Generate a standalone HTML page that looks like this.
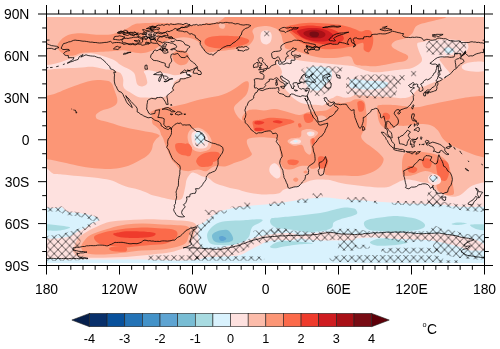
<!DOCTYPE html>
<html><head><meta charset="utf-8"><style>
html,body{margin:0;padding:0;background:#fff;width:500px;height:349px;overflow:hidden;position:relative;font-family:"Liberation Sans",sans-serif;}
</style></head><body>
<svg width="500" height="349" viewBox="0 0 500 349" style="position:absolute;left:0;top:0;will-change:transform">
<defs>
<clipPath id="mc"><rect x="47" y="16.9" width="437.3" height="246"/></clipPath>
<pattern id="hx" patternUnits="userSpaceOnUse" width="7.73" height="8.0" patternTransform="translate(0.06,5.6)"><path d="M0,0 L7.73,8.0 M7.73,0 L0,8.0" stroke="#000" stroke-width="0.6" fill="none"/></pattern>
</defs>
<g clip-path="url(#mc)">
<rect x="40" y="10" width="450" height="260" fill="#fcbcaa"/>
<path d="M57.2,46.0 C57.4,44.3 59.1,42.0 60.4,40.4 C61.7,38.8 63.3,37.5 65.2,36.4 C67.1,35.3 68.9,34.5 71.6,34.0 C74.3,33.5 77.5,33.1 81.2,33.2 C84.9,33.3 90.3,34.2 94.0,34.5 C97.7,34.8 100.4,34.9 103.6,34.8 C106.8,34.7 109.5,35.0 113.2,34.0 C116.9,33.0 122.5,30.6 126.0,29.0 C129.5,27.4 131.3,25.3 134.0,24.4 C136.7,23.4 138.0,23.6 142.0,23.3 C146.0,23.0 152.7,22.8 158.0,22.8 C163.3,22.9 169.7,23.4 174.0,23.6 C178.3,23.8 180.4,23.6 183.6,23.9 C186.8,24.2 190.0,25.1 193.2,25.2 C196.4,25.3 200.7,24.8 202.8,24.4 C204.9,24.0 203.9,23.3 206.0,23.0 C208.1,22.7 212.9,23.4 215.6,22.8 C218.3,22.2 220.1,20.7 222.0,19.6 C223.9,18.5 223.8,17.3 226.8,16.0 C229.8,14.7 203.8,12.7 240.0,12.0 C276.2,11.3 409.7,11.1 444.0,12.0 C478.3,12.9 447.5,15.8 446.0,17.2 C444.5,18.6 438.8,19.3 434.8,20.4 C430.8,21.5 425.2,22.5 422.0,23.6 C418.8,24.7 417.2,25.2 415.6,26.8 C414.0,28.4 414.0,31.3 412.4,33.2 C410.8,35.1 408.9,36.7 406.0,38.0 C403.1,39.3 397.2,39.9 394.8,41.2 C392.4,42.5 391.1,44.4 391.6,46.0 C392.1,47.6 395.3,49.2 398.0,50.8 C400.7,52.4 406.3,54.0 407.6,55.6 C408.9,57.2 407.9,59.2 406.0,60.4 C404.1,61.5 400.0,61.7 396.0,62.5 C392.0,63.3 386.0,64.6 382.0,65.2 C378.0,65.8 376.3,66.3 372.0,66.2 C367.7,66.1 359.7,66.4 356.0,64.8 C352.3,63.2 353.7,57.5 350.0,56.4 C346.3,55.3 339.3,57.9 334.0,58.0 C328.7,58.1 322.8,57.9 318.0,57.2 C313.2,56.5 308.9,55.1 305.2,54.0 C301.5,52.9 298.8,51.7 295.6,50.8 C292.4,49.9 287.9,49.6 286.0,48.5 C284.1,47.4 284.9,45.6 284.4,44.4 C283.9,43.2 283.3,42.8 282.8,41.2 C282.3,39.6 282.0,36.7 281.2,34.8 C280.4,32.9 279.3,31.2 278.0,30.0 C276.7,28.8 275.1,28.3 273.2,27.6 C271.3,26.9 269.2,26.1 266.8,26.0 C264.4,25.9 260.9,26.4 258.8,26.8 C256.7,27.2 255.1,27.6 254.0,28.4 C252.9,29.2 252.4,30.3 252.4,31.6 C252.4,32.9 254.0,34.8 254.0,36.4 C254.0,38.0 253.5,39.6 252.4,41.2 C251.3,42.8 250.0,44.8 247.6,46.0 C245.2,47.2 241.2,47.7 238.0,48.4 C234.8,49.1 232.1,49.5 228.4,50.0 C224.7,50.5 219.3,51.3 215.6,51.6 C211.9,51.9 208.4,53.2 206.0,52.0 C203.6,50.8 202.8,46.3 201.2,44.4 C199.6,42.5 198.3,41.5 196.4,40.4 C194.5,39.3 192.1,38.5 190.0,38.0 C187.9,37.5 185.7,37.2 183.6,37.2 C181.5,37.2 179.3,37.6 177.2,38.0 C175.1,38.4 172.9,38.9 170.8,39.6 C168.7,40.3 166.5,40.8 164.4,42.0 C162.3,43.2 159.9,45.7 158.0,47.0 C156.1,48.3 155.3,49.0 153.2,50.0 C151.1,51.0 148.1,52.3 145.2,52.8 C142.3,53.3 138.8,53.2 135.6,52.8 C132.4,52.4 128.7,50.9 126.0,50.5 C123.3,50.1 121.7,50.4 119.6,50.5 C117.5,50.6 115.5,50.8 113.2,51.0 C110.9,51.2 109.2,51.4 106.0,51.6 C102.8,51.8 98.0,52.0 94.0,52.2 C90.0,52.4 85.2,52.3 82.0,52.8 C78.8,53.3 76.8,54.7 74.8,55.2 C72.8,55.7 71.8,56.0 70.0,55.8 C68.2,55.6 65.8,54.9 64.0,54.0 C62.2,53.1 60.3,51.7 59.2,50.4 C58.1,49.1 57.0,47.7 57.2,46.0Z" fill="#fc9676"/>
<path d="M174.0,52.4 C175.3,51.3 178.3,50.0 180.4,50.0 C182.5,50.0 185.3,51.2 186.8,52.4 C188.3,53.6 189.2,55.3 189.2,57.2 C189.2,59.1 188.3,62.3 186.8,63.6 C185.3,64.9 182.4,65.5 180.4,65.2 C178.4,64.9 176.1,63.5 174.8,62.0 C173.5,60.5 172.5,58.0 172.4,56.4 C172.3,54.8 172.7,53.5 174.0,52.4Z" fill="#fc9676"/>
<path d="M40.0,96.5 C41.0,86.0 43.4,96.5 46.0,96.0 C48.6,95.5 52.4,94.7 55.6,93.6 C58.8,92.5 61.5,91.1 65.2,89.6 C68.9,88.1 74.3,86.1 78.0,84.8 C81.7,83.5 84.4,82.4 87.6,81.6 C90.8,80.8 94.0,80.1 97.2,80.0 C100.4,79.9 104.4,80.3 106.8,80.8 C109.2,81.3 110.3,81.5 111.6,83.2 C112.9,84.9 113.9,88.7 114.8,91.2 C115.7,93.7 116.9,96.3 117.2,98.4 C117.5,100.5 117.6,102.4 116.4,104.0 C115.2,105.6 112.4,106.9 110.0,108.0 C107.6,109.1 104.2,109.4 102.0,110.4 C99.8,111.4 97.5,112.8 96.5,114.0 C95.5,115.2 95.6,116.5 96.0,117.5 C96.4,118.5 96.7,118.9 99.0,119.8 C101.3,120.7 105.5,121.5 110.0,122.8 C114.5,124.1 120.7,126.3 126.0,127.6 C131.3,128.9 137.2,129.9 142.0,130.8 C146.8,131.7 151.9,132.4 154.8,133.2 C157.7,134.0 159.3,134.7 159.6,135.6 C159.9,136.5 157.5,137.5 156.4,138.8 C155.3,140.1 154.0,141.7 153.2,143.6 C152.4,145.5 152.7,147.9 151.6,150.0 C150.5,152.1 149.5,153.9 146.8,156.0 C144.1,158.1 139.1,160.7 135.6,162.4 C132.1,164.1 129.7,165.3 126.0,166.4 C122.3,167.5 117.2,168.4 113.2,168.8 C109.2,169.2 106.5,169.1 102.0,168.8 C97.5,168.5 91.3,168.0 86.0,167.2 C80.7,166.4 75.1,165.1 70.0,164.0 C64.9,162.9 59.6,161.6 55.6,160.8 C51.6,160.0 48.6,159.5 46.0,159.2 C43.4,158.9 41.0,169.4 40.0,159.0 C39.0,148.6 39.0,107.0 40.0,96.5Z" fill="#fc9676"/>
<path d="M149.0,114.0 C148.9,113.9 148.8,112.9 150.4,112.0 C152.0,111.1 155.5,109.6 158.4,108.8 C161.3,108.0 164.8,107.7 168.0,107.2 C171.2,106.7 174.4,106.3 177.6,105.6 C180.8,104.9 183.5,104.2 187.2,103.2 C190.9,102.2 196.3,100.5 200.0,99.6 C203.7,98.7 206.1,98.3 209.6,97.6 C213.1,96.9 217.6,96.1 220.8,95.2 C224.0,94.3 226.1,93.3 228.8,92.0 C231.5,90.7 234.4,88.8 236.8,87.2 C239.2,85.6 241.3,83.3 243.2,82.4 C245.1,81.5 247.1,80.9 248.0,81.6 C248.9,82.3 249.1,84.3 248.8,86.4 C248.5,88.5 247.9,92.0 246.4,94.4 C244.9,96.8 242.0,98.8 240.0,100.8 C238.0,102.8 235.3,104.8 234.4,106.4 C233.5,108.0 234.0,108.9 234.4,110.4 C234.8,111.9 235.9,113.8 236.8,115.2 C237.7,116.6 238.5,117.7 240.0,119.0 C241.5,120.3 243.3,121.5 246.0,123.0 C248.7,124.5 252.7,126.3 256.0,128.0 C259.3,129.7 262.0,131.8 266.0,133.0 C270.0,134.2 277.7,134.1 280.0,135.0 C282.3,135.9 282.3,138.1 280.0,138.5 C277.7,138.9 271.0,137.5 266.0,137.4 C261.0,137.3 253.2,137.4 250.0,138.2 C246.8,139.0 246.8,140.2 246.8,142.2 C246.8,144.2 249.2,148.1 250.0,150.2 C250.8,152.3 252.7,153.4 251.6,155.0 C250.5,156.6 246.5,158.5 243.6,159.8 C240.7,161.1 236.9,161.9 234.0,163.0 C231.1,164.1 229.3,165.6 226.0,166.2 C222.7,166.8 217.3,165.6 214.0,166.4 C210.7,167.2 208.7,170.7 206.0,171.2 C203.3,171.7 200.9,169.6 198.0,169.6 C195.1,169.6 191.3,171.2 188.4,171.2 C185.5,171.2 182.5,170.8 180.4,169.6 C178.3,168.4 177.0,165.6 175.6,164.0 C174.2,162.4 173.2,162.3 171.8,160.0 C170.5,157.7 168.7,152.8 167.5,150.0 C166.3,147.2 165.4,145.0 164.7,143.0 C163.9,141.0 163.6,139.3 163.0,138.0 C162.4,136.7 161.6,135.7 161.2,135.0 C160.8,134.3 161.1,134.6 160.8,133.7 C160.5,132.8 160.0,130.8 159.2,129.6 C158.4,128.4 157.1,127.3 156.0,126.4 C154.9,125.5 153.5,124.9 152.8,124.0 C152.1,123.1 152.3,122.7 152.0,120.8 C151.7,118.9 151.7,113.9 151.2,112.8 C150.7,111.7 149.1,114.1 149.0,114.0Z" fill="#fc9676"/>
<path d="M243.2,115.2 C244.2,113.8 245.9,111.3 248.0,110.4 C250.1,109.5 253.3,109.6 256.0,109.6 C258.7,109.6 260.9,110.6 264.0,110.5 C267.1,110.4 271.1,108.8 274.8,109.0 C278.5,109.2 282.0,110.4 286.0,111.4 C290.0,112.4 295.3,114.8 298.8,115.0 C302.3,115.2 304.3,113.1 306.8,112.5 C309.3,111.9 312.1,111.7 314.0,111.5 C315.9,111.3 316.1,111.5 318.0,111.3 C319.9,111.1 323.5,111.0 325.4,110.6 C327.3,110.2 327.9,109.8 329.2,109.1 C330.4,108.3 331.9,107.0 332.9,106.1 C333.9,105.2 334.1,104.5 335.1,103.9 C336.1,103.3 337.6,102.5 338.8,102.4 C340.1,102.3 341.4,103.2 342.6,103.2 C343.9,103.2 345.1,102.7 346.3,102.4 C347.5,102.2 348.4,102.2 350.0,101.7 C351.6,101.2 353.7,99.3 356.0,99.2 C358.3,99.1 362.3,99.2 364.0,101.0 C365.7,102.8 365.5,106.7 366.0,109.8 C366.5,112.9 366.8,116.5 366.8,119.4 C366.8,122.3 366.7,125.3 366.0,127.4 C365.3,129.5 363.6,130.6 362.8,132.2 C362.0,133.8 360.9,135.4 361.2,137.0 C361.5,138.6 362.8,140.2 364.4,141.8 C366.0,143.4 368.7,145.0 370.8,146.6 C372.9,148.2 375.3,149.8 377.2,151.4 C379.1,153.0 380.9,154.8 382.0,156.2 C383.1,157.6 383.9,158.3 383.6,160.0 C383.3,161.7 382.5,164.3 380.4,166.4 C378.3,168.5 374.5,171.2 370.8,172.8 C367.1,174.4 362.8,175.6 358.0,176.0 C353.2,176.4 346.7,175.6 342.0,175.5 C337.3,175.4 332.8,175.8 330.0,175.5 C327.2,175.2 326.1,175.2 325.0,174.0 C323.9,172.8 324.2,169.4 323.5,168.0 C322.8,166.6 321.9,165.6 321.0,165.5 C320.1,165.4 319.0,166.8 318.0,167.3 C317.0,167.8 316.1,168.2 314.9,168.4 C313.7,168.6 311.8,168.8 310.8,168.4 C309.8,168.1 309.7,166.7 308.7,166.3 C307.7,165.9 306.1,165.8 304.6,165.8 C303.1,165.8 301.2,165.9 299.5,166.3 C297.8,166.7 296.0,167.9 294.3,168.4 C292.6,168.9 290.9,169.4 289.2,169.4 C287.5,169.4 285.4,169.3 284.0,168.4 C282.6,167.5 281.7,165.4 281.0,164.0 C280.3,162.6 279.6,160.7 279.6,160.0 C279.6,159.3 281.2,161.7 281.2,160.0 C281.2,158.3 280.1,153.1 279.6,149.8 C279.1,146.5 279.3,142.5 278.0,140.2 C276.7,137.9 274.3,137.0 271.6,136.2 C268.9,135.4 265.3,136.3 262.0,135.4 C258.7,134.5 254.8,132.9 252.0,131.0 C249.2,129.1 246.7,126.0 245.0,124.0 C243.3,122.0 242.3,120.5 242.0,119.0 C241.7,117.5 242.2,116.6 243.2,115.2Z" fill="#fc9676"/>
<path d="M377.2,108.2 C377.4,105.5 377.1,105.5 380.0,105.0 C382.9,104.5 391.0,104.8 394.8,105.0 C398.6,105.2 399.3,105.6 402.8,106.0 C406.3,106.4 411.2,107.6 416.0,107.3 C420.8,107.0 426.6,105.2 431.8,104.2 C437.1,103.2 442.2,102.0 447.5,101.0 C452.8,100.0 456.9,98.8 463.3,97.9 C469.7,97.0 481.2,95.9 486.0,95.5 C490.8,95.1 491.0,85.0 492.0,95.5 C493.0,106.0 493.0,148.1 492.0,158.5 C491.0,168.9 489.1,158.7 486.0,158.0 C482.9,157.3 477.3,155.8 473.3,154.5 C469.3,153.2 465.8,151.6 462.0,150.0 C458.2,148.4 454.0,146.9 450.8,145.0 C447.6,143.1 444.9,141.0 442.8,138.6 C440.7,136.2 440.1,132.9 438.0,130.6 C435.9,128.3 433.7,126.1 430.0,125.0 C426.3,123.9 419.6,124.1 415.6,124.2 C411.6,124.3 408.7,125.5 406.0,125.8 C403.3,126.1 401.2,125.8 399.6,125.8 C398.0,125.8 398.0,125.3 396.4,125.8 C394.8,126.3 392.1,128.7 390.0,129.0 C387.9,129.3 385.5,128.7 383.6,127.4 C381.7,126.1 379.9,124.2 378.8,121.0 C377.7,117.8 377.0,110.9 377.2,108.2Z" fill="#fc9676"/>
<path d="M406.0,153.0 C408.1,152.1 411.6,151.4 415.6,151.4 C419.6,151.4 425.7,152.1 430.0,153.0 C434.3,153.9 438.3,154.9 441.2,156.6 C444.1,158.3 446.0,160.3 447.6,163.0 C449.2,165.7 450.0,169.4 450.8,172.6 C451.6,175.8 451.9,179.0 452.4,182.2 C452.9,185.4 454.0,189.7 454.0,191.8 C454.0,193.9 454.0,194.6 452.4,195.0 C450.8,195.4 446.8,195.0 444.4,194.2 C442.0,193.4 439.3,191.9 438.0,190.2 C436.7,188.5 436.4,185.4 436.4,183.8 C436.4,182.2 438.3,182.2 438.0,180.6 C437.7,179.0 436.9,175.8 434.8,174.2 C432.7,172.6 428.4,171.0 425.2,171.0 C422.0,171.0 418.3,173.4 415.6,174.2 C412.9,175.0 411.3,175.7 409.2,175.8 C407.1,175.9 404.2,176.8 403.0,175.0 C401.8,173.2 402.0,168.0 402.0,165.0 C402.0,162.0 402.3,159.0 403.0,157.0 C403.7,155.0 403.9,153.9 406.0,153.0Z" fill="#fc9676"/>
<path d="M293.3,179.0 C293.7,178.4 295.1,177.5 296.0,177.6 C296.9,177.7 298.3,178.8 298.4,179.5 C298.5,180.2 297.3,181.6 296.5,181.8 C295.7,182.1 294.3,181.5 293.8,181.0 C293.3,180.5 292.9,179.6 293.3,179.0Z" fill="#fc9676"/>
<path d="M303.6,171.5 C303.9,171.1 305.3,170.3 306.0,170.4 C306.7,170.5 307.7,171.5 307.7,172.0 C307.7,172.5 306.6,173.3 306.0,173.5 C305.4,173.7 304.4,173.3 304.0,173.0 C303.6,172.7 303.3,171.9 303.6,171.5Z" fill="#fc9676"/>
<path d="M187.6,135.8 C187.9,133.4 188.9,130.7 190.8,129.4 C192.7,128.1 196.1,127.3 198.8,127.8 C201.5,128.3 204.7,130.5 206.8,132.6 C208.9,134.7 211.1,137.9 211.6,140.6 C212.1,143.3 211.6,146.7 210.0,148.6 C208.4,150.5 204.7,151.5 202.0,151.8 C199.3,152.1 196.1,151.5 194.0,150.2 C191.9,148.9 190.3,146.2 189.2,143.8 C188.1,141.4 187.3,138.2 187.6,135.8Z" fill="#fcbcaa"/>
<path d="M302.0,130.6 C303.6,129.3 307.3,128.7 310.0,129.0 C312.7,129.3 317.2,130.9 318.0,132.2 C318.8,133.5 316.1,135.7 314.8,137.0 C313.5,138.3 310.5,138.1 310.0,140.2 C309.5,142.3 311.6,147.4 311.6,149.8 C311.6,152.2 311.1,154.3 310.0,154.6 C308.9,154.9 306.5,153.0 305.2,151.4 C303.9,149.8 303.9,145.9 302.0,145.0 C300.1,144.1 296.4,146.3 294.0,145.8 C291.6,145.3 288.1,143.0 287.6,141.8 C287.1,140.6 288.7,139.4 290.8,138.6 C292.9,137.8 298.5,138.3 300.4,137.0 C302.3,135.7 300.4,131.9 302.0,130.6Z" fill="#fcbcaa"/>
<path d="M318.0,116.2 C318.5,115.3 320.7,115.3 322.0,115.5 C323.3,115.7 325.5,116.6 326.0,117.5 C326.5,118.4 326.2,120.4 325.0,121.0 C323.8,121.6 320.2,121.8 319.0,121.0 C317.8,120.2 317.5,117.1 318.0,116.2Z" fill="#fcbcaa"/>
<path d="M145.0,33.0 C146.1,32.1 149.0,31.4 151.0,31.5 C153.0,31.6 156.2,32.3 157.0,33.5 C157.8,34.7 157.3,37.5 156.0,38.5 C154.7,39.5 150.9,39.9 149.0,39.6 C147.1,39.4 145.2,38.1 144.5,37.0 C143.8,35.9 143.9,33.9 145.0,33.0Z" fill="#fcbcaa"/>
<path d="M218.8,24.0 C219.2,23.2 221.4,23.2 222.5,23.4 C223.6,23.6 224.9,24.2 225.2,25.0 C225.4,25.8 224.9,27.9 224.0,28.4 C223.1,28.9 220.9,28.7 220.0,28.0 C219.1,27.3 218.4,24.8 218.8,24.0Z" fill="#fcbcaa"/>
<path d="M192.4,132.6 C193.6,131.1 196.7,130.1 198.8,130.2 C200.9,130.3 203.6,131.7 205.2,133.4 C206.8,135.1 208.1,138.3 208.4,140.6 C208.7,142.9 208.1,145.7 206.8,147.0 C205.5,148.3 202.5,148.7 200.4,148.6 C198.3,148.5 195.5,147.8 194.0,146.2 C192.5,144.6 191.9,141.3 191.6,139.0 C191.3,136.7 191.2,134.1 192.4,132.6Z" fill="#fee1df"/>
<path d="M290.5,141.5 C291.2,140.9 293.3,139.6 295.0,139.4 C296.7,139.2 299.7,139.6 300.5,140.2 C301.3,140.8 301.1,142.6 300.0,143.2 C298.9,143.8 295.6,144.0 294.0,144.0 C292.4,144.0 291.1,143.4 290.5,143.0 C289.9,142.6 289.8,142.1 290.5,141.5Z" fill="#fee1df"/>
<path d="M306.8,133.0 C307.0,132.3 308.8,131.7 310.0,131.6 C311.2,131.5 313.7,131.8 314.3,132.5 C314.9,133.2 314.4,134.9 313.5,135.5 C312.6,136.1 310.1,136.4 309.0,136.0 C307.9,135.6 306.6,133.7 306.8,133.0Z" fill="#fee1df"/>
<path d="M294.0,140.8 C294.4,140.5 295.8,140.3 296.5,140.4 C297.2,140.5 298.1,141.1 298.0,141.4 C297.9,141.7 296.7,142.3 296.0,142.4 C295.3,142.5 294.3,142.3 294.0,142.0 C293.7,141.7 293.6,141.1 294.0,140.8Z" fill="#d9f2fd"/>
<path d="M308.8,133.2 C309.1,132.9 310.0,132.5 310.5,132.6 C311.0,132.7 311.7,133.3 311.6,133.6 C311.6,133.9 310.6,134.5 310.2,134.6 C309.8,134.7 309.1,134.4 308.9,134.2 C308.7,134.0 308.5,133.5 308.8,133.2Z" fill="#d9f2fd"/>
<path d="M194.8,134.2 C195.7,133.0 198.8,131.5 200.4,131.8 C202.0,132.1 203.9,134.1 204.4,135.8 C204.9,137.5 204.7,140.9 203.6,142.2 C202.5,143.5 199.5,144.3 198.0,143.8 C196.5,143.3 195.3,140.6 194.8,139.0 C194.3,137.4 193.9,135.4 194.8,134.2Z" fill="#d9f2fd"/>
<path d="M205.0,40.0 C205.8,38.8 207.5,37.7 210.0,37.0 C212.5,36.3 216.3,36.0 220.0,35.8 C223.7,35.6 228.5,35.8 232.0,36.0 C235.5,36.2 238.3,36.4 241.0,37.0 C243.7,37.6 247.2,38.6 248.4,39.6 C249.6,40.6 249.4,42.0 248.0,43.0 C246.6,44.0 243.0,45.0 240.0,45.8 C237.0,46.6 233.3,47.6 230.0,48.0 C226.7,48.4 223.3,48.6 220.0,48.4 C216.7,48.2 212.5,47.7 210.0,47.0 C207.5,46.3 205.8,45.2 205.0,44.0 C204.2,42.8 204.2,41.2 205.0,40.0Z" fill="#fb6a4a"/>
<path d="M286.0,26.8 C287.3,25.9 291.6,25.1 295.6,24.4 C299.6,23.7 304.9,22.9 310.0,22.8 C315.1,22.7 320.7,23.2 326.0,23.6 C331.3,24.0 337.5,24.4 342.0,25.2 C346.5,26.0 350.0,27.3 353.2,28.4 C356.4,29.4 359.1,31.2 361.2,31.5 C363.3,31.8 364.4,30.1 366.0,30.0 C367.6,29.9 369.6,29.7 370.8,31.0 C372.0,32.3 372.9,35.5 373.2,38.0 C373.5,40.5 373.1,43.7 372.4,46.0 C371.7,48.3 370.6,51.3 369.2,52.0 C367.8,52.7 365.1,51.5 364.0,50.0 C362.9,48.5 364.6,43.5 362.8,42.8 C361.0,42.1 356.9,45.1 353.2,46.0 C349.5,46.9 344.9,47.9 340.4,48.4 C335.9,48.9 330.3,49.3 326.0,49.2 C321.7,49.1 318.3,48.4 314.8,47.6 C311.3,46.8 307.9,45.5 305.2,44.4 C302.5,43.3 300.9,42.8 298.8,41.2 C296.7,39.6 294.3,36.7 292.4,34.8 C290.5,32.9 288.7,31.3 287.6,30.0 C286.5,28.7 284.7,27.7 286.0,26.8Z" fill="#fb6a4a"/>
<path d="M175.6,144.0 C176.7,142.7 180.3,142.7 183.0,143.2 C185.7,143.7 190.4,145.1 191.6,147.0 C192.8,148.9 191.6,153.1 190.0,154.4 C188.4,155.7 184.2,155.6 182.0,155.0 C179.8,154.4 177.6,152.8 176.5,151.0 C175.4,149.2 174.5,145.3 175.6,144.0Z" fill="#fb6a4a"/>
<path d="M186.0,143.8 C186.8,142.3 190.0,144.1 190.8,146.0 C191.6,147.9 191.6,153.5 190.8,155.0 C190.0,156.5 186.8,156.9 186.0,155.0 C185.2,153.1 185.2,145.3 186.0,143.8Z" fill="#fb6a4a"/>
<path d="M197.2,158.2 C198.3,156.6 200.9,154.5 203.6,153.4 C206.3,152.3 210.5,151.8 213.2,151.8 C215.9,151.8 218.8,152.1 219.6,153.4 C220.4,154.7 219.6,158.2 218.0,159.8 C216.4,161.4 212.7,162.2 210.0,163.0 C207.3,163.8 204.1,164.6 202.0,164.6 C199.9,164.6 198.0,164.1 197.2,163.0 C196.4,161.9 196.1,159.8 197.2,158.2Z" fill="#fb6a4a"/>
<path d="M196.4,160.5 C197.1,159.3 201.3,159.4 204.0,159.5 C206.7,159.6 211.2,159.9 212.4,161.0 C213.6,162.1 213.1,165.1 211.0,166.0 C208.9,166.9 202.4,167.3 200.0,166.4 C197.6,165.5 195.7,161.7 196.4,160.5Z" fill="#fb6a4a"/>
<path d="M253.2,121.0 C254.7,119.9 259.2,119.9 262.0,119.4 C264.8,118.9 266.5,117.9 270.0,117.8 C273.5,117.7 279.1,118.2 282.8,118.6 C286.5,119.0 290.5,119.5 292.4,120.2 C294.3,120.9 295.1,121.8 294.0,122.6 C292.9,123.4 288.7,124.2 286.0,125.0 C283.3,125.8 280.7,126.5 278.0,127.4 C275.3,128.3 272.7,129.9 270.0,130.6 C267.3,131.3 264.5,131.3 262.0,131.4 C259.5,131.5 256.3,131.9 254.8,131.0 C253.3,130.1 253.5,127.7 253.2,126.0 C252.9,124.3 251.7,122.1 253.2,121.0Z" fill="#fb6a4a"/>
<path d="M303.6,115.5 C303.9,114.0 306.4,113.4 308.0,113.5 C309.6,113.6 312.4,114.7 313.2,116.0 C313.9,117.3 313.7,120.4 312.5,121.5 C311.3,122.6 307.5,123.6 306.0,122.6 C304.5,121.6 303.3,117.0 303.6,115.5Z" fill="#fb6a4a"/>
<path d="M298.0,124.0 C298.2,123.3 299.9,123.0 300.5,123.4 C301.1,123.8 301.8,125.8 301.5,126.5 C301.2,127.2 299.6,127.8 299.0,127.4 C298.4,127.0 297.8,124.7 298.0,124.0Z" fill="#fb6a4a"/>
<path d="M357.6,102.0 C358.2,101.2 359.9,100.7 361.0,101.0 C362.1,101.3 364.0,102.4 364.4,104.0 C364.8,105.6 364.4,109.3 363.5,110.5 C362.6,111.7 360.0,112.2 359.0,111.4 C358.0,110.7 357.8,107.6 357.6,106.0 C357.4,104.4 357.0,102.8 357.6,102.0Z" fill="#fb6a4a"/>
<path d="M382.8,114.0 C383.2,113.0 385.3,112.5 386.5,112.8 C387.7,113.0 389.6,114.4 390.0,115.5 C390.4,116.6 390.0,118.8 389.0,119.4 C388.0,120.0 385.0,119.9 384.0,119.0 C383.0,118.1 382.4,115.0 382.8,114.0Z" fill="#fb6a4a"/>
<path d="M318.0,158.0 C318.5,156.1 321.3,156.2 323.0,156.5 C324.7,156.8 327.5,158.2 328.0,160.0 C328.5,161.8 327.3,165.7 326.0,167.0 C324.7,168.3 321.3,169.5 320.0,168.0 C318.7,166.5 317.5,159.9 318.0,158.0Z" fill="#fb6a4a"/>
<path d="M287.6,160.5 C288.3,159.7 291.1,159.4 293.0,159.5 C294.9,159.6 298.3,160.1 298.8,161.0 C299.3,161.9 297.6,164.2 296.0,164.8 C294.4,165.4 290.4,165.2 289.0,164.5 C287.6,163.8 286.9,161.3 287.6,160.5Z" fill="#fb6a4a"/>
<path d="M311.6,139.0 C312.0,138.3 313.5,138.1 314.0,138.6 C314.5,139.1 315.0,140.9 314.8,142.0 C314.6,143.1 313.5,144.8 313.0,145.0 C312.5,145.2 311.8,144.0 311.6,143.0 C311.4,142.0 311.2,139.7 311.6,139.0Z" fill="#fb6a4a"/>
<path d="M407.6,167.0 C408.1,166.0 410.4,165.9 412.0,166.2 C413.6,166.4 416.7,167.4 417.2,168.5 C417.7,169.6 416.4,172.0 415.0,172.6 C413.6,173.2 410.2,172.9 409.0,172.0 C407.8,171.1 407.1,168.0 407.6,167.0Z" fill="#fb6a4a"/>
<path d="M422.0,160.0 C422.5,158.5 425.4,158.0 427.0,158.2 C428.6,158.4 431.1,159.4 431.6,161.0 C432.1,162.6 431.3,166.8 430.0,167.8 C428.7,168.8 425.3,168.3 424.0,167.0 C422.7,165.7 421.5,161.5 422.0,160.0Z" fill="#fb6a4a"/>
<path d="M436.4,161.0 C437.2,159.0 440.1,159.5 442.0,159.8 C443.9,160.1 446.8,161.0 448.0,163.0 C449.2,165.0 449.5,169.1 449.2,172.0 C448.9,174.9 447.5,179.4 446.0,180.6 C444.5,181.8 441.5,180.4 440.0,179.0 C438.5,177.6 437.6,175.0 437.0,172.0 C436.4,169.0 435.6,163.0 436.4,161.0Z" fill="#fb6a4a"/>
<path d="M290.8,29.2 C291.1,27.9 295.6,27.4 298.8,26.8 C302.0,26.2 306.0,25.5 310.0,25.5 C314.0,25.5 318.8,26.1 322.8,26.8 C326.8,27.6 330.8,28.7 334.0,30.0 C337.2,31.3 340.4,33.2 342.0,34.8 C343.6,36.4 344.4,38.1 343.6,39.6 C342.8,41.1 340.1,42.8 337.2,43.6 C334.3,44.4 329.7,44.5 326.0,44.4 C322.3,44.3 318.3,43.6 314.8,42.8 C311.3,42.0 308.1,40.9 305.2,39.6 C302.3,38.3 299.6,36.5 297.2,34.8 C294.8,33.1 290.5,30.5 290.8,29.2Z" fill="#ef3b2c"/>
<path d="M273.2,121.0 C273.9,120.6 276.4,120.1 278.0,120.2 C279.6,120.3 282.5,121.3 282.8,121.8 C283.1,122.3 281.1,123.3 279.6,123.4 C278.1,123.5 275.1,123.0 274.0,122.6 C272.9,122.2 272.5,121.4 273.2,121.0Z" fill="#ef3b2c"/>
<path d="M255.0,121.5 C255.8,121.0 258.4,120.8 260.0,121.0 C261.6,121.2 264.4,121.9 264.4,122.5 C264.4,123.1 261.6,124.3 260.0,124.6 C258.4,124.8 255.8,124.5 255.0,124.0 C254.2,123.5 254.2,122.0 255.0,121.5Z" fill="#ef3b2c"/>
<path d="M255.0,128.2 C255.8,127.7 258.4,127.6 260.0,127.8 C261.6,128.0 264.4,129.0 264.4,129.5 C264.4,130.0 261.6,130.8 260.0,131.0 C258.4,131.2 255.8,131.0 255.0,130.5 C254.2,130.0 254.2,128.6 255.0,128.2Z" fill="#ef3b2c"/>
<path d="M297.2,30.8 C298.3,29.9 302.0,28.8 305.2,28.4 C308.4,27.9 312.9,27.8 316.4,28.1 C319.9,28.4 323.3,29.0 326.0,30.0 C328.7,31.0 331.3,32.7 332.4,34.0 C333.5,35.3 333.5,36.8 332.4,38.0 C331.3,39.2 328.9,40.7 326.0,41.2 C323.1,41.7 318.5,41.7 314.8,41.2 C311.1,40.7 306.3,39.2 303.6,38.0 C300.9,36.8 299.9,35.2 298.8,34.0 C297.7,32.8 296.1,31.7 297.2,30.8Z" fill="#cf1c20"/>
<path d="M303.6,32.4 C304.4,31.5 307.6,30.4 310.0,30.0 C312.4,29.6 315.6,29.6 318.0,30.0 C320.4,30.4 323.2,31.5 324.4,32.4 C325.6,33.3 325.7,34.7 325.2,35.6 C324.7,36.5 323.5,37.6 321.2,38.0 C318.9,38.4 314.3,38.4 311.6,38.0 C308.9,37.6 306.5,36.5 305.2,35.6 C303.9,34.7 302.8,33.3 303.6,32.4Z" fill="#a81016"/>
<path d="M310.0,32.4 C310.8,31.7 313.3,31.5 314.8,31.6 C316.3,31.7 318.3,32.4 318.8,33.2 C319.3,34.0 318.9,35.7 318.0,36.4 C317.1,37.1 314.5,37.3 313.2,37.2 C311.9,37.1 310.5,36.4 310.0,35.6 C309.5,34.8 309.2,33.1 310.0,32.4Z" fill="#780c14"/>
<path d="M40.0,65.5 C41.0,64.7 43.4,65.5 46.0,65.2 C48.6,64.9 52.4,64.4 55.6,63.6 C58.8,62.8 62.0,61.5 65.2,60.4 C68.4,59.3 71.9,58.3 74.8,57.2 C77.7,56.1 80.1,54.7 82.8,54.0 C85.5,53.3 88.1,53.1 90.8,53.2 C93.5,53.3 96.1,54.1 98.8,54.8 C101.5,55.5 104.1,56.3 106.8,57.2 C109.5,58.1 112.6,59.2 114.8,60.4 C117.0,61.6 118.3,63.4 120.0,64.5 C121.7,65.6 123.2,66.4 124.8,67.2 C126.4,68.0 128.0,68.5 129.6,69.6 C131.2,70.7 133.3,71.9 134.4,73.6 C135.5,75.3 135.5,78.1 136.0,80.0 C136.5,81.9 136.5,83.7 137.6,84.8 C138.7,85.9 140.8,86.7 142.4,86.4 C144.0,86.1 146.7,85.1 147.2,83.2 C147.7,81.3 146.1,77.2 145.6,75.2 C145.1,73.2 143.2,72.0 144.0,71.2 C144.8,70.4 148.0,70.3 150.4,70.4 C152.8,70.5 155.5,71.5 158.4,72.0 C161.3,72.5 165.3,73.1 168.0,73.6 C170.7,74.1 172.3,75.1 174.4,75.2 C176.5,75.3 178.7,74.9 180.8,74.4 C182.9,73.9 185.3,72.1 187.2,72.0 C189.1,71.9 191.7,72.8 192.0,73.6 C192.3,74.4 190.7,76.0 188.8,76.8 C186.9,77.6 183.2,77.6 180.8,78.4 C178.4,79.2 175.7,80.0 174.4,81.6 C173.1,83.2 173.6,86.0 172.8,88.0 C172.0,90.0 170.9,92.1 169.6,93.6 C168.3,95.1 167.2,96.1 164.8,96.8 C162.4,97.5 158.7,97.5 155.2,97.6 C151.7,97.7 146.9,97.7 144.0,97.6 C141.1,97.5 139.7,97.6 137.6,96.8 C135.5,96.0 133.2,94.2 131.2,93.0 C129.2,91.8 126.8,90.7 125.5,89.5 C124.2,88.3 123.6,87.7 123.2,86.0 C122.8,84.3 123.6,81.3 123.2,79.2 C122.8,77.1 121.9,74.8 120.9,73.5 C120.0,72.2 118.8,72.3 117.5,71.7 C116.2,71.1 114.8,70.4 112.9,70.0 C111.0,69.6 108.6,69.8 106.0,69.4 C103.4,69.0 99.7,67.9 97.2,67.5 C94.7,67.1 94.0,66.8 90.8,66.8 C87.6,66.8 82.8,67.5 78.0,67.8 C73.2,68.1 67.3,68.2 62.0,68.5 C56.7,68.8 49.7,69.5 46.0,69.8 C42.3,70.0 41.0,70.7 40.0,70.0 C39.0,69.3 39.0,66.3 40.0,65.5Z" fill="#fee1df"/>
<path d="M262.0,31.6 C263.3,30.5 266.8,30.3 268.4,30.8 C270.0,31.3 271.2,33.1 271.6,34.8 C272.0,36.5 271.6,39.6 270.8,41.2 C270.0,42.8 268.3,44.1 266.8,44.4 C265.3,44.7 263.1,44.0 262.0,42.8 C260.9,41.6 260.4,39.1 260.4,37.2 C260.4,35.3 260.7,32.7 262.0,31.6Z" fill="#fee1df"/>
<path d="M276.5,63.0 C277.0,61.9 280.4,61.2 283.0,60.5 C285.6,59.8 289.6,58.8 292.4,58.8 C295.2,58.8 296.1,59.9 300.0,60.5 C303.9,61.1 310.7,61.8 316.0,62.4 C321.3,63.0 326.7,63.5 332.0,64.0 C337.3,64.5 344.0,65.1 348.0,65.6 C352.0,66.1 352.0,65.9 356.0,67.0 C360.0,68.1 366.7,71.3 372.0,72.0 C377.3,72.7 383.2,71.6 388.0,71.2 C392.8,70.8 396.8,70.1 400.8,69.6 C404.8,69.1 408.8,69.1 412.0,68.0 C415.2,66.9 418.3,64.7 420.0,63.2 C421.7,61.7 422.2,60.9 422.0,58.8 C421.8,56.7 419.6,53.3 418.8,50.8 C418.0,48.3 416.7,45.1 417.2,43.6 C417.7,42.1 419.9,42.5 422.0,42.0 C424.1,41.5 426.0,40.8 430.0,40.4 C434.0,40.0 440.9,39.6 446.0,39.6 C451.1,39.6 456.9,39.9 460.4,40.4 C463.9,40.9 465.5,41.6 466.8,42.8 C468.1,44.0 468.7,46.0 468.4,47.6 C468.1,49.2 467.1,51.3 465.2,52.4 C463.3,53.5 460.4,53.3 457.2,54.0 C454.0,54.7 448.9,55.6 446.0,56.4 C443.1,57.2 440.4,57.9 439.6,58.8 C438.8,59.7 439.9,60.4 441.0,62.0 C442.1,63.6 444.5,66.5 446.0,68.6 C447.5,70.7 450.5,72.7 450.0,74.4 C449.5,76.1 445.3,77.5 443.0,78.7 C440.7,79.9 438.4,80.5 436.0,81.5 C433.6,82.5 430.7,83.6 428.7,84.4 C426.7,85.2 425.4,86.0 424.0,86.5 C422.6,87.0 421.2,86.8 420.0,87.5 C418.8,88.2 417.6,89.5 416.5,90.5 C415.4,91.5 414.7,92.4 413.5,93.5 C412.3,94.6 411.3,96.2 409.2,97.0 C407.1,97.8 403.5,98.2 400.6,98.2 C397.7,98.2 394.6,97.4 392.0,97.2 C389.4,97.0 388.7,97.0 384.8,96.8 C380.9,96.6 373.6,96.3 368.8,96.0 C364.0,95.7 359.1,94.8 356.0,95.0 C352.9,95.2 352.0,96.8 350.0,97.2 C348.0,97.6 345.6,97.7 344.0,97.6 C342.4,97.5 341.5,96.8 340.3,96.5 C339.1,96.2 337.8,95.5 336.6,95.7 C335.4,96.0 334.1,97.4 332.9,98.0 C331.7,98.6 330.3,98.5 329.2,99.4 C328.1,100.3 327.3,102.2 326.2,103.2 C325.1,104.2 324.2,105.1 322.5,105.4 C320.8,105.7 318.4,105.0 316.0,104.8 C313.6,104.6 311.1,104.9 308.4,104.5 C305.7,104.1 302.7,103.8 300.0,102.5 C297.3,101.2 293.6,98.3 292.0,97.0 C290.4,95.7 291.6,95.8 290.4,94.4 C289.2,93.0 286.1,90.7 285.0,88.5 C283.9,86.3 284.2,83.6 283.5,81.5 C282.8,79.4 281.2,77.6 281.0,76.0 C280.8,74.4 282.2,73.5 282.0,72.0 C281.8,70.5 280.9,68.5 280.0,67.0 C279.1,65.5 276.0,64.1 276.5,63.0Z" fill="#fee1df"/>
<path d="M461.7,66.3 C462.0,65.1 463.6,64.0 466.5,63.2 C469.4,62.4 475.8,61.7 479.0,61.6 C482.2,61.5 483.8,62.3 486.0,62.4 C488.2,62.5 491.0,61.0 492.0,62.4 C493.0,63.8 493.0,69.6 492.0,71.0 C491.0,72.4 488.7,70.9 486.0,71.0 C483.3,71.1 479.5,71.9 476.0,71.8 C472.5,71.7 467.3,71.2 464.9,70.3 C462.5,69.4 461.4,67.5 461.7,66.3Z" fill="#fee1df"/>
<path d="M270.0,166.4 C270.8,164.8 273.2,162.9 274.8,163.2 C276.4,163.5 278.7,165.9 279.6,168.0 C280.5,170.1 280.9,174.3 280.4,176.0 C279.9,177.7 278.1,178.9 276.4,178.4 C274.7,177.9 271.1,174.8 270.0,172.8 C268.9,170.8 269.2,168.0 270.0,166.4Z" fill="#fee1df"/>
<path d="M428.5,176.5 C429.3,175.2 432.1,173.9 434.0,174.0 C435.9,174.1 438.9,175.6 440.0,177.0 C441.1,178.4 441.4,181.2 440.5,182.5 C439.6,183.8 436.7,185.1 434.8,185.0 C432.9,184.9 430.1,183.4 429.0,182.0 C427.9,180.6 427.7,177.8 428.5,176.5Z" fill="#fee1df"/>
<path d="M430.8,177.5 C431.1,176.6 432.9,175.7 434.0,175.8 C435.1,175.9 437.2,177.1 437.5,178.0 C437.8,178.9 436.9,181.0 436.0,181.5 C435.1,182.0 432.9,181.9 432.0,181.2 C431.1,180.5 430.5,178.4 430.8,177.5Z" fill="#d9f2fd"/>
<path d="M40.0,174.4 C42.3,158.4 50.3,174.0 54.0,174.0 C57.7,174.0 58.0,174.1 62.0,174.4 C66.0,174.7 72.7,175.5 78.0,176.0 C83.3,176.5 88.7,176.9 94.0,177.6 C99.3,178.3 106.0,179.1 110.0,180.0 C114.0,180.9 115.3,182.1 118.0,183.2 C120.7,184.3 123.1,185.5 126.0,186.4 C128.9,187.3 132.4,187.9 135.6,188.8 C138.8,189.7 142.5,191.0 145.2,192.0 C147.9,193.0 149.1,194.2 151.6,195.0 C154.1,195.8 157.6,196.4 160.0,197.0 C162.4,197.6 163.4,197.9 166.0,198.4 C168.6,198.9 172.9,200.0 175.6,200.0 C178.3,200.0 180.4,200.5 182.0,198.4 C183.6,196.3 184.4,190.4 185.2,187.2 C186.0,184.0 185.7,181.6 186.8,179.2 C187.9,176.8 190.0,173.7 191.6,172.8 C193.2,171.9 194.8,173.1 196.4,173.6 C198.0,174.1 199.3,175.3 201.2,176.0 C203.1,176.7 205.5,176.5 207.6,177.6 C209.7,178.7 211.6,181.1 214.0,182.4 C216.4,183.7 219.3,184.7 222.0,185.6 C224.7,186.5 227.3,187.3 230.0,188.0 C232.7,188.7 235.3,188.9 238.0,189.6 C240.7,190.3 242.0,191.2 246.0,192.0 C250.0,192.8 256.7,194.1 262.0,194.4 C267.3,194.7 274.3,194.4 278.0,193.6 C281.7,192.8 281.3,190.6 284.0,189.5 C286.7,188.4 290.9,188.1 294.3,187.0 C297.7,185.9 302.0,183.9 304.6,182.8 C307.2,181.8 308.1,181.2 309.8,180.7 C311.5,180.2 312.3,179.9 314.9,179.7 C317.5,179.5 322.7,179.6 325.2,179.7 C327.7,179.8 327.2,179.4 330.0,180.0 C332.8,180.6 337.3,182.3 342.0,183.2 C346.7,184.1 352.7,184.9 358.0,185.6 C363.3,186.3 369.2,186.9 374.0,187.2 C378.8,187.5 383.3,187.7 386.8,187.2 C390.3,186.7 391.6,185.3 394.8,184.0 C398.0,182.7 401.5,179.8 406.0,179.5 C410.5,179.2 418.0,181.5 422.0,182.2 C426.0,182.9 427.3,182.2 430.0,183.8 C432.7,185.4 434.5,189.7 438.0,191.8 C441.5,193.9 447.1,196.1 450.8,196.6 C454.5,197.1 457.2,196.6 460.4,195.0 C463.6,193.4 467.1,188.9 470.0,187.0 C472.9,185.1 475.3,184.6 478.0,183.8 C480.7,183.0 483.7,182.5 486.0,182.2 C488.3,181.9 491.0,167.4 492.0,182.0 C493.0,196.6 567.3,255.3 492.0,270.0 C416.7,284.7 115.3,285.9 40.0,270.0 C-35.3,254.1 37.7,190.4 40.0,174.4Z" fill="#fee1df"/>
<path d="M308.0,68.0 C310.1,66.4 314.1,66.4 317.6,66.4 C321.1,66.4 326.4,66.9 328.8,68.0 C331.2,69.1 331.7,70.9 332.0,72.8 C332.3,74.7 331.7,77.1 330.4,79.2 C329.1,81.3 325.9,83.7 324.0,85.6 C322.1,87.5 321.3,89.7 319.2,90.4 C317.1,91.1 313.3,90.7 311.2,89.6 C309.1,88.5 307.5,86.3 306.4,84.0 C305.3,81.7 304.5,78.7 304.8,76.0 C305.1,73.3 305.9,69.6 308.0,68.0Z" fill="#d9f2fd"/>
<path d="M350.0,80.0 C351.0,78.7 352.9,79.1 356.0,79.2 C359.1,79.3 364.0,80.4 368.8,80.8 C373.6,81.2 381.6,81.1 384.8,81.6 C388.0,82.1 388.3,82.9 388.0,84.0 C387.7,85.1 386.4,87.1 383.2,88.0 C380.0,88.9 373.3,89.5 368.8,89.6 C364.3,89.7 359.1,88.9 356.0,88.5 C352.9,88.1 351.0,88.4 350.0,87.0 C349.0,85.6 349.0,81.3 350.0,80.0Z" fill="#d9f2fd"/>
<path d="M444.4,48.5 C444.9,47.6 447.4,47.4 449.0,47.6 C450.6,47.8 453.5,48.6 454.0,49.5 C454.5,50.4 453.3,52.4 452.0,53.0 C450.7,53.6 447.3,54.0 446.0,53.2 C444.7,52.5 443.9,49.4 444.4,48.5Z" fill="#d9f2fd"/>
<path d="M40.0,207.4 C41.0,202.2 43.7,207.3 46.0,207.4 C48.3,207.5 51.3,208.2 54.0,208.2 C56.7,208.2 59.9,206.9 62.0,207.4 C64.1,207.9 64.1,210.5 66.8,211.4 C69.5,212.3 74.5,212.5 78.0,213.0 C81.5,213.5 84.4,213.8 87.6,214.6 C90.8,215.4 95.3,216.9 97.2,217.8 C99.1,218.7 99.3,219.4 98.8,220.2 C98.3,221.0 96.1,221.4 94.0,222.6 C91.9,223.8 88.7,225.9 86.0,227.4 C83.3,228.9 80.7,229.9 78.0,231.4 C75.3,232.9 72.7,235.1 70.0,236.2 C67.3,237.3 64.7,237.4 62.0,237.8 C59.3,238.2 56.7,238.5 54.0,238.6 C51.3,238.7 48.3,238.6 46.0,238.6 C43.7,238.6 41.0,243.8 40.0,238.6 C39.0,233.4 39.0,212.6 40.0,207.4Z" fill="#d9f2fd"/>
<path d="M196.0,227.4 C197.1,225.5 201.3,224.5 204.0,222.6 C206.7,220.7 209.3,218.1 212.0,216.2 C214.7,214.3 216.5,212.7 220.0,211.4 C223.5,210.1 228.0,209.1 232.8,208.2 C237.6,207.3 243.9,206.6 248.8,206.0 C253.7,205.4 257.1,205.3 262.0,204.8 C266.9,204.3 272.7,203.9 278.0,203.2 C283.3,202.5 288.7,201.6 294.0,200.8 C299.3,200.0 304.7,198.9 310.0,198.4 C315.3,197.9 320.7,197.5 326.0,197.6 C331.3,197.7 336.7,198.8 342.0,199.2 C347.3,199.6 352.7,199.6 358.0,200.0 C363.3,200.4 368.7,201.2 374.0,201.6 C379.3,202.0 384.7,202.1 390.0,202.4 C395.3,202.7 400.7,203.3 406.0,203.5 C411.3,203.7 416.7,203.6 422.0,203.8 C427.3,204.0 432.7,204.2 438.0,204.6 C443.3,205.0 448.7,205.8 454.0,206.2 C459.3,206.6 464.7,207.0 470.0,207.0 C475.3,207.0 482.3,206.5 486.0,206.4 C489.7,206.3 491.0,195.8 492.0,206.4 C493.0,217.0 567.3,259.4 492.0,270.0 C416.7,280.6 115.3,271.8 40.0,270.0 C-35.3,268.2 26.7,261.1 40.0,259.3 C53.3,257.5 93.5,259.3 120.0,259.3 C146.5,259.3 185.8,261.9 199.0,259.3 C212.2,256.7 199.4,247.7 199.2,243.4 C199.0,239.2 198.1,236.5 197.6,233.8 C197.1,231.1 194.9,229.3 196.0,227.4Z" fill="#d9f2fd"/>
<path d="M40.0,224.2 C41.0,223.1 43.4,224.1 46.0,224.2 C48.6,224.3 51.6,224.5 55.6,225.0 C59.6,225.5 69.5,226.5 70.0,227.4 C70.5,228.3 62.8,230.1 58.8,230.6 C54.8,231.1 49.1,230.6 46.0,230.6 C42.9,230.6 41.0,231.7 40.0,230.6 C39.0,229.5 39.0,225.3 40.0,224.2Z" fill="#a8dbe1"/>
<path d="M207.2,237.0 C206.9,234.9 207.2,232.9 208.8,230.6 C210.4,228.3 213.6,225.0 216.8,223.4 C220.0,221.8 223.5,221.5 228.0,221.0 C232.5,220.5 238.4,220.5 244.0,220.2 C249.6,219.9 258.9,219.0 261.6,219.4 C264.3,219.8 261.6,221.3 260.0,222.6 C258.4,223.9 253.9,225.0 252.0,227.4 C250.1,229.8 250.4,234.6 248.8,237.0 C247.2,239.4 245.3,240.5 242.4,241.8 C239.5,243.1 234.9,244.5 231.2,245.0 C227.5,245.5 223.5,245.3 220.0,245.0 C216.5,244.7 212.5,244.7 210.4,243.4 C208.3,242.1 207.5,239.1 207.2,237.0Z" fill="#a8dbe1"/>
<path d="M271.2,218.5 C272.1,217.6 272.5,218.2 276.0,217.8 C279.5,217.4 286.7,216.7 292.0,216.2 C297.3,215.7 302.7,215.3 308.0,214.6 C313.3,213.9 319.2,213.1 324.0,212.2 C328.8,211.3 333.3,209.8 336.8,209.0 C340.3,208.2 342.1,207.5 344.8,207.4 C347.5,207.3 350.9,207.8 352.8,208.2 C354.7,208.6 355.5,208.7 356.0,209.8 C356.5,210.9 358.7,213.0 356.0,214.6 C353.3,216.2 343.7,218.1 340.0,219.4 C336.3,220.7 334.9,221.3 333.6,222.6 C332.3,223.9 333.6,226.1 332.0,227.4 C330.4,228.7 328.0,229.8 324.0,230.6 C320.0,231.4 313.3,232.3 308.0,232.2 C302.7,232.1 297.3,230.6 292.0,229.8 C286.7,229.0 279.6,228.5 276.0,227.4 C272.4,226.3 271.2,224.5 270.4,223.0 C269.6,221.5 270.3,219.4 271.2,218.5Z" fill="#a8dbe1"/>
<path d="M364.0,222.6 C364.5,221.3 365.3,220.3 368.8,219.4 C372.3,218.5 379.7,217.5 384.8,217.0 C389.9,216.5 394.1,215.9 399.2,216.2 C404.3,216.5 411.2,217.5 415.2,218.6 C419.2,219.7 421.6,221.3 423.2,222.6 C424.8,223.9 425.6,225.4 424.8,226.6 C424.0,227.8 421.9,229.0 418.4,229.8 C414.9,230.6 409.1,231.1 404.0,231.4 C398.9,231.7 393.3,231.5 388.0,231.4 C382.7,231.3 375.7,231.3 372.0,230.6 C368.3,229.9 366.9,228.7 365.6,227.4 C364.3,226.1 363.5,223.9 364.0,222.6Z" fill="#a8dbe1"/>
<path d="M270.0,247.0 C270.0,246.1 273.7,243.6 276.0,242.6 C278.3,241.6 280.0,241.1 284.0,241.0 C288.0,240.9 295.2,241.4 300.0,241.8 C304.8,242.2 312.8,243.0 312.8,243.4 C312.8,243.8 304.8,243.7 300.0,244.2 C295.2,244.7 288.0,245.9 284.0,246.6 C280.0,247.3 278.3,248.1 276.0,248.2 C273.7,248.3 270.0,247.9 270.0,247.0Z" fill="#a8dbe1"/>
<path d="M370.4,241.8 C371.7,240.9 375.7,239.0 380.0,238.6 C384.3,238.2 391.5,238.7 396.0,239.4 C400.5,240.1 407.2,241.7 407.2,242.6 C407.2,243.5 400.5,244.5 396.0,245.0 C391.5,245.5 384.0,245.9 380.0,245.8 C376.0,245.7 373.6,244.9 372.0,244.2 C370.4,243.5 369.1,242.7 370.4,241.8Z" fill="#a8dbe1"/>
<path d="M470.0,225.0 C470.3,224.2 475.3,224.3 478.0,224.2 C480.7,224.1 483.7,224.4 486.0,224.5 C488.3,224.6 491.0,223.5 492.0,224.5 C493.0,225.5 493.0,229.6 492.0,230.6 C491.0,231.6 488.7,230.9 486.0,230.6 C483.3,230.3 478.7,229.9 476.0,229.0 C473.3,228.1 469.7,225.8 470.0,225.0Z" fill="#a8dbe1"/>
<path d="M452.4,223.5 C453.5,223.2 456.6,222.6 459.0,222.6 C461.4,222.6 466.8,223.2 466.8,223.6 C466.8,224.0 461.4,224.8 459.0,225.0 C456.6,225.2 453.5,224.8 452.4,224.6 C451.3,224.3 451.3,223.8 452.4,223.5Z" fill="#a8dbe1"/>
<path d="M212.0,235.4 C212.3,233.7 214.4,232.3 216.8,231.4 C219.2,230.5 224.0,229.4 226.4,229.8 C228.8,230.2 230.1,232.1 231.2,233.8 C232.3,235.5 233.9,238.7 232.8,240.2 C231.7,241.7 227.7,242.3 224.8,242.6 C221.9,242.9 217.3,243.0 215.2,241.8 C213.1,240.6 211.7,237.1 212.0,235.4Z" fill="#78bdd4"/>
<path d="M219.2,237.0 C219.7,236.3 222.0,235.9 223.2,236.2 C224.4,236.5 226.4,237.8 226.4,238.6 C226.4,239.4 224.3,240.7 223.2,241.0 C222.1,241.3 220.7,240.9 220.0,240.2 C219.3,239.5 218.7,237.7 219.2,237.0Z" fill="#5ea4d2"/>
<path d="M196.0,248.2 C197.5,246.9 201.8,248.4 205.0,248.5 C208.2,248.6 211.7,249.2 215.0,249.0 C218.3,248.8 220.8,247.9 225.0,247.0 C229.2,246.1 235.2,245.0 240.0,243.5 C244.8,242.0 249.6,239.3 253.6,238.0 C257.6,236.7 260.3,236.2 264.0,235.5 C267.7,234.8 271.3,233.9 276.0,233.5 C280.7,233.1 288.0,232.8 292.0,233.0 C296.0,233.2 296.0,235.0 300.0,235.0 C304.0,235.0 311.2,233.5 316.0,233.0 C320.8,232.5 324.8,231.9 328.8,232.0 C332.8,232.1 335.5,233.2 340.0,233.5 C344.5,233.8 350.7,234.0 356.0,234.0 C361.3,234.0 366.7,233.7 372.0,233.5 C377.3,233.3 382.7,233.1 388.0,233.0 C393.3,232.9 398.7,232.9 404.0,233.0 C409.3,233.1 414.3,233.7 420.0,233.8 C425.7,233.9 432.3,233.2 438.0,233.5 C443.7,233.8 449.2,234.7 454.0,235.4 C458.8,236.1 463.3,237.1 466.8,237.8 C470.3,238.5 472.1,238.5 474.8,239.4 C477.5,240.3 480.9,241.7 482.8,243.4 C484.7,245.1 486.8,248.6 486.0,249.8 C485.2,251.0 481.2,250.6 478.0,250.6 C474.8,250.6 470.0,250.5 466.8,249.8 C463.6,249.1 462.3,247.7 458.8,246.6 C455.3,245.5 450.8,244.5 446.0,243.4 C441.2,242.3 435.3,240.9 430.0,240.2 C424.7,239.5 419.2,239.6 414.0,239.4 C408.8,239.2 404.7,239.3 399.0,239.0 C393.3,238.7 387.2,237.6 380.0,237.5 C372.8,237.4 360.5,238.1 356.0,238.5 C351.5,238.9 359.5,239.9 352.8,240.2 C346.1,240.5 324.8,240.5 316.0,240.2 C307.2,239.9 304.0,238.5 300.0,238.5 C296.0,238.5 296.0,239.9 292.0,240.2 C288.0,240.5 280.3,239.9 276.0,240.2 C271.7,240.5 268.7,241.2 266.0,242.0 C263.3,242.8 262.7,243.7 260.0,245.0 C257.3,246.3 253.3,248.3 250.0,250.0 C246.7,251.7 244.2,253.9 240.0,255.0 C235.8,256.1 232.3,256.2 225.0,256.5 C217.7,256.8 200.8,257.9 196.0,256.5 C191.2,255.1 194.5,249.5 196.0,248.2Z" fill="#fee1df"/>
<path d="M60.0,252.0 C62.0,249.8 69.0,248.7 72.0,246.0 C75.0,243.3 75.0,239.0 78.0,236.0 C81.0,233.0 84.7,230.3 90.0,228.0 C95.3,225.7 101.7,223.7 110.0,222.0 C118.3,220.3 130.0,218.6 140.0,218.0 C150.0,217.4 161.7,218.2 170.0,218.5 C178.3,218.8 185.3,218.8 190.0,220.0 C194.7,221.2 196.7,223.3 198.0,226.0 C199.3,228.7 198.7,232.7 198.0,236.0 C197.3,239.3 196.0,243.3 194.0,246.0 C192.0,248.7 191.7,250.2 186.0,252.0 C180.3,253.8 171.0,255.8 160.0,257.0 C149.0,258.2 133.3,258.9 120.0,259.3 C106.7,259.7 90.0,259.4 80.0,259.3 C70.0,259.2 63.3,260.2 60.0,259.0 C56.7,257.8 58.0,254.2 60.0,252.0Z" fill="#fee1df"/>
<path d="M73.2,249.8 C73.9,247.4 75.9,241.5 78.0,238.6 C80.1,235.7 82.5,234.3 86.0,232.2 C89.5,230.1 94.8,227.5 98.8,225.8 C102.8,224.1 105.5,222.7 110.0,221.8 C114.5,220.9 120.7,220.6 126.0,220.2 C131.3,219.8 136.7,219.5 142.0,219.4 C147.3,219.3 152.7,219.3 158.0,219.4 C163.3,219.5 169.2,219.9 174.0,220.2 C178.8,220.5 183.6,220.6 186.8,221.0 C190.0,221.4 191.6,221.8 193.2,222.6 C194.8,223.4 196.1,224.2 196.4,225.8 C196.7,227.4 195.6,229.8 194.8,232.2 C194.0,234.6 192.9,237.8 191.6,240.2 C190.3,242.6 189.7,244.7 186.8,246.6 C183.9,248.5 178.8,250.2 174.0,251.4 C169.2,252.6 163.3,253.1 158.0,253.8 C152.7,254.5 147.3,254.9 142.0,255.4 C136.7,255.9 131.3,256.6 126.0,257.0 C120.7,257.4 115.3,257.4 110.0,257.5 C104.7,257.6 99.3,258.0 94.0,257.8 C88.7,257.6 81.3,257.0 78.0,256.2 C74.7,255.4 74.8,254.1 74.0,253.0 C73.2,251.9 72.5,252.2 73.2,249.8Z" fill="#fcbcaa"/>
<path d="M81.2,246.6 C81.5,243.9 84.9,239.4 87.6,237.0 C90.3,234.6 93.5,233.7 97.2,232.2 C100.9,230.7 105.2,229.5 110.0,228.2 C114.8,226.9 120.7,225.4 126.0,224.6 C131.3,223.8 136.7,223.5 142.0,223.4 C147.3,223.3 152.7,223.9 158.0,224.2 C163.3,224.5 169.5,224.7 174.0,225.0 C178.5,225.3 182.5,225.1 185.2,225.8 C187.9,226.5 189.5,227.1 190.0,229.0 C190.5,230.9 189.2,234.6 188.4,237.0 C187.6,239.4 187.6,241.7 185.2,243.4 C182.8,245.1 178.5,246.3 174.0,247.4 C169.5,248.5 163.3,249.3 158.0,249.8 C152.7,250.3 147.3,250.2 142.0,250.6 C136.7,251.0 132.7,251.8 126.0,252.5 C119.3,253.2 108.7,254.5 102.0,254.6 C95.3,254.7 89.5,254.3 86.0,253.0 C82.5,251.7 80.9,249.3 81.2,246.6Z" fill="#fc9676"/>
<path d="M94.0,237.0 C94.5,235.3 98.8,234.1 102.0,233.0 C105.2,231.9 109.2,231.3 113.2,230.6 C117.2,229.8 121.2,229.0 126.0,228.5 C130.8,228.0 136.7,227.5 142.0,227.4 C147.3,227.3 153.2,227.9 158.0,228.2 C162.8,228.5 167.6,228.3 170.8,229.0 C174.0,229.7 176.4,230.6 177.2,232.2 C178.0,233.8 177.5,236.7 175.6,238.6 C173.7,240.5 170.3,242.3 166.0,243.4 C161.7,244.5 155.3,244.5 150.0,245.0 C144.7,245.5 138.0,246.2 134.0,246.6 C130.0,247.0 130.0,247.5 126.0,247.4 C122.0,247.3 114.5,246.5 110.0,245.8 C105.5,245.1 101.5,244.9 98.8,243.4 C96.1,241.9 93.5,238.7 94.0,237.0Z" fill="#fb6a4a"/>
<path d="M110.0,247.5 C111.3,246.9 115.3,246.7 118.0,246.6 C120.7,246.5 124.7,246.2 126.0,247.0 C127.3,247.8 127.7,250.7 126.0,251.4 C124.3,252.1 118.7,251.6 116.0,251.4 C113.3,251.2 111.0,250.7 110.0,250.0 C109.0,249.3 108.7,248.1 110.0,247.5Z" fill="#fb6a4a"/>
<path d="M113.2,233.8 C113.7,233.1 117.5,232.6 119.6,232.2 C121.7,231.8 122.3,231.3 126.0,231.2 C129.7,231.1 137.2,231.1 142.0,231.4 C146.8,231.7 152.9,232.2 154.8,233.0 C156.7,233.8 155.3,235.4 153.2,236.2 C151.1,237.0 146.5,237.5 142.0,237.8 C137.5,238.1 130.3,238.1 126.0,237.8 C121.7,237.5 118.5,236.9 116.4,236.2 C114.3,235.5 112.7,234.5 113.2,233.8Z" fill="#ef3b2c"/>
<path d="M40.0,206.5 C41.4,206.1 51.8,207.2 54.0,207.2 C56.2,207.2 60.7,206.1 62.0,206.4 C63.3,206.7 65.2,209.8 66.8,210.4 C68.4,211.0 75.9,211.7 78.0,212.0 C80.1,212.3 85.7,213.1 87.6,213.6 C89.5,214.1 96.0,216.1 97.2,216.8 C98.4,217.5 99.6,220.0 99.5,220.5 C99.4,221.0 97.2,222.2 96.0,222.0 C94.8,221.8 89.8,219.6 88.0,219.0 C86.2,218.4 80.2,216.9 78.0,216.5 C75.8,216.1 68.0,215.5 66.0,215.0 C64.0,214.5 60.6,211.8 58.0,211.5 C55.4,211.2 41.8,212.0 40.0,211.5 C38.2,211.0 38.6,206.9 40.0,206.5Z" fill="url(#hx)"/>
<path d="M94.0,221.8 C96.1,221.0 98.8,220.2 99.0,220.5 C99.2,220.8 97.3,223.6 96.0,224.5 C94.7,225.4 87.6,228.8 86.0,229.5 C84.4,230.2 80.8,232.1 80.0,232.0 C79.2,231.9 76.6,230.0 78.0,229.0 C79.4,228.0 91.9,222.7 94.0,221.8Z" fill="url(#hx)"/>
<path d="M40.0,236.0 C40.6,233.6 43.8,236.4 46.0,236.2 C48.2,236.0 58.8,234.5 62.0,233.8 C65.2,233.1 75.9,229.3 78.0,229.0 C80.1,228.7 82.5,229.8 82.8,230.6 C83.1,231.4 81.5,235.4 81.2,237.0 C80.9,238.6 79.9,244.8 79.6,246.6 C79.3,248.4 77.4,254.1 78.0,255.0 C78.6,255.9 85.2,255.5 86.0,256.0 C86.8,256.5 90.6,259.4 86.0,259.8 C81.4,260.2 44.6,262.2 40.0,259.8 C35.4,257.4 39.4,238.4 40.0,236.0Z" fill="url(#hx)"/>
<path d="M150.0,255.5 C154.6,255.0 191.4,255.0 196.0,255.5 C200.6,256.0 200.6,260.0 196.0,260.5 C191.4,261.0 154.6,261.0 150.0,260.5 C145.4,260.0 145.4,256.0 150.0,255.5Z" fill="url(#hx)"/>
<path d="M196.0,256.5 C202.4,256.1 253.6,256.1 260.0,256.5 C266.4,256.9 266.4,260.1 260.0,260.5 C253.6,260.9 202.4,260.9 196.0,260.5 C189.6,260.1 189.6,256.9 196.0,256.5Z" fill="url(#hx)"/>
<path d="M190.0,228.0 C190.6,224.8 194.6,226.6 196.0,226.0 C197.4,225.4 202.4,222.7 204.0,221.6 C205.6,220.5 211.0,215.5 212.0,215.2 C213.0,214.9 214.6,217.9 214.0,219.0 C213.4,220.1 207.3,224.7 206.0,226.0 C204.7,227.3 201.4,230.3 201.0,232.0 C200.6,233.7 201.6,241.4 202.0,243.0 C202.4,244.6 202.7,247.2 205.0,247.5 C207.3,247.8 221.5,246.5 225.0,246.0 C228.5,245.5 237.1,243.4 240.0,242.5 C242.9,241.6 251.8,237.2 253.6,237.0 C255.4,236.8 258.9,239.7 258.0,241.0 C257.1,242.3 247.8,248.5 245.0,250.0 C242.2,251.5 233.0,255.2 230.0,256.0 C227.0,256.8 219.0,257.8 215.0,258.0 C211.0,258.2 192.5,261.0 190.0,258.0 C187.5,255.0 189.4,231.2 190.0,228.0Z" fill="url(#hx)"/>
<path d="M205.0,210.0 C206.2,209.5 217.9,210.5 220.0,210.4 C222.1,210.3 225.4,208.7 226.0,209.0 C226.6,209.3 227.8,212.4 226.0,213.0 C224.2,213.6 210.1,215.3 208.0,215.0 C205.9,214.7 203.8,210.5 205.0,210.0Z" fill="url(#hx)"/>
<path d="M232.0,206.5 C233.8,206.1 248.2,205.3 250.0,205.5 C251.8,205.7 251.8,208.4 250.0,208.8 C248.2,209.2 233.8,209.7 232.0,209.5 C230.2,209.3 230.2,206.9 232.0,206.5Z" fill="url(#hx)"/>
<path d="M253.6,231.0 C255.2,229.7 271.4,229.5 276.0,229.5 C280.6,229.5 296.0,230.8 300.0,231.0 C304.0,231.2 312.2,232.2 316.0,232.0 C319.8,231.8 334.0,229.3 338.0,229.0 C342.0,228.7 352.6,228.8 356.0,229.0 C359.4,229.2 367.2,231.3 372.0,231.5 C376.8,231.7 398.4,231.1 404.0,231.0 C409.6,230.9 425.0,231.6 428.0,231.0 C431.0,230.4 432.4,225.7 434.0,225.5 C435.6,225.3 442.2,229.1 444.0,229.5 C445.8,229.9 449.8,229.6 452.0,230.0 C454.2,230.4 463.0,233.6 466.0,234.0 C469.0,234.4 480.0,233.9 482.0,234.0 C484.0,234.1 485.6,232.6 486.0,235.0 C486.4,237.4 488.7,256.2 486.0,258.5 C483.3,260.8 463.0,258.4 459.0,258.0 C455.0,257.6 448.6,255.7 446.0,255.0 C443.4,254.3 434.3,252.3 433.0,251.0 C431.7,249.7 434.3,242.9 433.0,242.0 C431.7,241.1 422.9,241.4 420.0,241.5 C417.1,241.6 408.0,242.8 404.0,242.5 C400.0,242.2 384.8,238.4 380.0,238.0 C375.2,237.6 358.4,236.8 356.0,238.0 C353.6,239.2 357.8,248.8 356.0,250.0 C354.2,251.2 340.2,251.0 338.4,250.0 C336.6,249.0 340.2,240.8 338.0,240.0 C335.8,239.2 321.2,241.6 316.0,241.8 C310.8,242.0 290.2,241.8 285.6,241.8 C281.0,241.8 272.6,241.9 270.0,242.0 C267.4,242.1 261.6,244.1 260.0,243.0 C258.4,241.9 252.0,232.3 253.6,231.0Z" fill="url(#hx)"/>
<path d="M272.0,228.0 C273.4,227.6 284.6,228.1 286.0,228.5 C287.4,228.9 287.4,231.6 286.0,232.0 C284.6,232.4 273.4,232.9 272.0,232.5 C270.6,232.1 270.6,228.4 272.0,228.0Z" fill="url(#hx)"/>
<path d="M336.8,255.5 C346.7,254.8 426.1,254.8 436.0,255.5 C445.9,256.1 445.9,261.4 436.0,262.0 C426.1,262.6 346.7,262.6 336.8,262.0 C326.9,261.4 326.9,256.1 336.8,255.5Z" fill="url(#hx)"/>
<path d="M436.0,260.5 C438.4,260.2 457.6,260.2 460.0,260.5 C462.4,260.8 462.4,262.8 460.0,263.0 C457.6,263.2 438.4,263.2 436.0,263.0 C433.6,262.8 433.6,260.8 436.0,260.5Z" fill="url(#hx)"/>
<path d="M384.8,248.2 C389.9,247.7 430.9,247.7 436.0,248.2 C441.1,248.7 441.1,252.5 436.0,253.0 C430.9,253.5 389.9,253.5 384.8,253.0 C379.7,252.5 379.7,248.7 384.8,248.2Z" fill="url(#hx)"/>
<path d="M356.0,245.0 C357.3,244.7 367.7,244.7 369.0,245.0 C370.3,245.3 370.3,248.2 369.0,248.5 C367.7,248.8 357.3,248.8 356.0,248.5 C354.7,248.2 354.7,245.3 356.0,245.0Z" fill="url(#hx)"/>
<path d="M244.0,202.5 C244.6,202.2 249.4,202.2 250.0,202.5 C250.6,202.8 250.6,205.7 250.0,206.0 C249.4,206.3 244.6,206.3 244.0,206.0 C243.4,205.7 243.4,202.8 244.0,202.5Z" fill="url(#hx)"/>
<path d="M270.0,202.0 C271.4,201.6 282.6,201.2 284.0,201.5 C285.4,201.8 285.4,205.1 284.0,205.5 C282.6,205.9 271.4,206.3 270.0,206.0 C268.6,205.7 268.6,202.4 270.0,202.0Z" fill="url(#hx)"/>
<path d="M298.0,199.0 C299.0,198.6 307.0,198.2 308.0,198.5 C309.0,198.8 309.0,202.1 308.0,202.5 C307.0,202.9 299.0,203.3 298.0,203.0 C297.0,202.7 297.0,199.4 298.0,199.0Z" fill="url(#hx)"/>
<path d="M313.0,193.5 C313.9,193.1 321.1,193.1 322.0,193.5 C322.9,193.9 322.9,197.6 322.0,198.0 C321.1,198.4 313.9,198.4 313.0,198.0 C312.1,197.6 312.1,193.9 313.0,193.5Z" fill="url(#hx)"/>
<path d="M348.0,197.5 C349.8,197.1 364.2,197.1 366.0,197.5 C367.8,197.9 367.8,201.6 366.0,202.0 C364.2,202.4 349.8,202.4 348.0,202.0 C346.2,201.6 346.2,197.9 348.0,197.5Z" fill="url(#hx)"/>
<path d="M374.0,201.0 C374.4,200.8 377.6,200.8 378.0,201.0 C378.4,201.2 378.4,203.2 378.0,203.5 C377.6,203.8 374.4,203.8 374.0,203.5 C373.6,203.2 373.6,201.2 374.0,201.0Z" fill="url(#hx)"/>
<path d="M395.0,201.0 C399.5,200.7 433.5,201.2 440.0,201.5 C446.5,201.8 455.4,204.2 460.0,204.5 C464.6,204.8 483.4,203.2 486.0,204.0 C488.6,204.8 488.6,211.4 486.0,212.0 C483.4,212.6 464.6,210.6 460.0,210.0 C455.4,209.4 446.5,206.5 440.0,206.0 C433.5,205.5 399.5,205.5 395.0,205.0 C390.5,204.5 390.5,201.3 395.0,201.0Z" fill="url(#hx)"/>
<path d="M428.4,191.8 C430.0,190.8 443.2,193.5 444.4,195.0 C445.6,196.5 441.6,206.0 440.0,207.0 C438.4,208.0 429.2,206.5 428.0,205.0 C426.8,203.5 426.8,192.8 428.4,191.8Z" fill="url(#hx)"/>
<path d="M301.6,69.6 C302.7,68.1 308.8,65.8 312.8,65.6 C316.8,65.4 338.7,66.6 341.6,67.2 C344.5,67.8 342.6,70.3 341.6,71.2 C340.6,72.1 333.1,74.2 332.0,76.0 C330.9,77.8 331.4,86.9 330.4,88.8 C329.4,90.7 323.8,94.5 322.4,95.2 C321.0,95.9 317.4,96.5 316.0,96.0 C314.6,95.5 309.4,91.9 308.0,90.4 C306.6,88.9 302.2,82.9 301.6,80.8 C301.0,78.7 300.5,71.1 301.6,69.6Z" fill="url(#hx)"/>
<path d="M356.0,76.0 C359.8,73.9 390.6,73.9 394.4,76.0 C398.2,78.1 398.2,94.7 394.4,96.8 C390.6,98.9 359.8,98.9 356.0,96.8 C352.2,94.7 352.2,78.1 356.0,76.0Z" fill="url(#hx)"/>
<path d="M346.7,78.0 C347.6,76.5 355.1,76.5 356.0,78.0 C356.9,79.5 356.9,91.5 356.0,93.0 C355.1,94.5 347.6,94.5 346.7,93.0 C345.8,91.5 345.8,79.5 346.7,78.0Z" fill="url(#hx)"/>
<path d="M428.4,41.2 C431.9,39.9 460.1,39.9 463.6,41.2 C467.1,42.5 467.1,52.7 463.6,54.0 C460.1,55.3 431.9,55.3 428.4,54.0 C424.9,52.7 424.9,42.5 428.4,41.2Z" fill="url(#hx)"/>
<path d="M195.5,133.5 C196.4,132.3 203.6,132.3 204.5,133.5 C205.4,134.7 205.4,144.3 204.5,145.5 C203.6,146.7 196.4,146.7 195.5,145.5 C194.6,144.3 194.6,134.7 195.5,133.5Z" fill="url(#hx)"/>
<path d="M430.0,175.5 C430.7,174.9 436.3,174.9 437.0,175.5 C437.7,176.1 437.7,180.9 437.0,181.5 C436.3,182.1 430.7,182.1 430.0,181.5 C429.3,180.9 429.3,176.1 430.0,175.5Z" fill="url(#hx)"/>
<path d="M264.1,31.0 C264.7,30.5 268.8,30.5 269.3,31.0 C269.9,31.5 269.9,35.7 269.3,36.2 C268.8,36.7 264.7,36.7 264.1,36.2 C263.6,35.7 263.6,31.5 264.1,31.0Z" fill="url(#hx)"/>
<path d="M411.0,71.0 C411.5,70.5 415.7,70.5 416.2,71.0 C416.7,71.5 416.7,75.7 416.2,76.2 C415.7,76.7 411.5,76.7 411.0,76.2 C410.5,75.7 410.5,71.5 411.0,71.0Z" fill="url(#hx)"/>
<path d="M399.4,75.0 C399.9,74.5 404.1,74.5 404.6,75.0 C405.1,75.5 405.1,79.7 404.6,80.2 C404.1,80.7 399.9,80.7 399.4,80.2 C398.9,79.7 398.9,75.5 399.4,75.0Z" fill="url(#hx)"/>
<path d="M395.6,79.0 C396.1,78.5 400.2,78.5 400.8,79.0 C401.3,79.5 401.3,83.7 400.8,84.2 C400.2,84.7 396.1,84.7 395.6,84.2 C395.0,83.7 395.0,79.5 395.6,79.0Z" fill="url(#hx)"/>
<path d="M61.1,48.2 L61.8,46.7 L62.6,45.1 L63.5,43.6 L65.4,43.2 L67.2,42.6 L68.7,41.9 L70.4,41.7 L71.9,41.1 L73.4,40.4 L75.1,40.1 L77.1,40.4 L79.1,40.5 L81.0,40.9 L83.0,41.2 L84.8,41.2 L86.7,41.5 L88.5,41.8 L90.3,42.2 L92.1,42.1 L94.0,42.5 L95.8,42.5 L97.6,42.8 L99.4,43.0 L101.2,42.9 L103.1,42.7 L104.9,42.4 L106.8,42.4 L108.5,41.9 L110.7,41.4 L112.5,43.1 L114.6,42.6 L116.5,42.5 L118.4,42.5 L120.2,42.7 L122.0,43.2 L123.7,44.4 L125.6,44.0 L127.3,43.6 L129.0,44.5 L130.7,44.7 L132.4,44.4 L134.1,44.7 L135.7,44.9 L137.4,44.0 L139.0,44.1 L140.6,44.4 L142.2,45.3 L143.8,45.0 L145.4,44.6 L147.0,44.0 L148.7,44.0 L151.1,42.6 L152.9,43.1 L154.8,43.3 L156.7,43.3 L158.4,44.0 L159.3,45.5 L160.9,46.1 L162.4,46.7 L164.2,46.1 L165.7,46.8 L164.4,48.1 L163.3,49.6 L161.7,49.8 L160.0,49.4 L158.4,49.9 L156.9,50.9 L155.1,49.9 L153.6,51.0 L152.9,53.2 L151.1,54.5 L150.5,57.3 L151.8,58.7 L153.0,60.1 L154.8,60.6 L156.6,60.6 L158.4,61.1 L160.3,61.8 L162.1,62.5 L163.8,62.8 L165.4,63.6 L165.1,66.0 L166.9,67.0 L168.8,67.8 L169.2,66.1 L169.4,64.3 L170.6,62.7 L171.8,61.1 L171.4,59.1 L170.6,57.3 L171.2,54.5 L172.8,53.9 L174.6,54.3 L176.3,53.8 L177.9,53.4 L178.8,54.8 L179.9,56.0 L180.9,57.3 L183.1,57.6 L185.2,57.6 L187.0,55.5 L187.8,57.0 L188.9,58.1 L189.7,59.5 L190.7,60.8 L192.2,61.6 L193.5,62.8 L194.9,63.6 L196.2,65.4 L197.6,67.1 L196.2,67.8 L194.2,68.5 L192.5,69.6 L190.6,70.0 L188.9,70.8 L187.0,71.3 L184.6,69.9 L183.2,71.1 L181.7,72.2 L180.3,73.4 L182.3,72.7 L184.4,72.4 L186.4,72.0 L187.0,74.8 L189.2,75.3 L191.3,76.2 L189.8,76.9 L188.3,77.6 L186.7,77.8 L185.2,78.6 L183.6,78.8 L182.0,78.8 L180.3,78.7 L179.7,81.3 L177.6,82.3 L175.5,83.2 L174.4,84.5 L173.6,86.0 L172.4,88.1 L173.6,90.1 L172.2,91.5 L170.6,92.5 L169.4,93.6 L168.2,94.6 L166.9,95.7 L167.1,97.9 L167.6,99.9 L167.7,102.2 L168.2,104.4 L166.3,104.4 L165.8,102.8 L165.0,101.3 L163.8,99.6 L162.7,97.8 L160.9,97.3 L158.7,97.5 L156.6,97.6 L156.0,99.0 L153.9,98.7 L151.7,98.3 L150.2,98.9 L148.8,99.6 L147.5,100.6 L147.4,102.7 L146.9,104.8 L146.9,106.9 L146.6,109.0 L147.8,111.0 L148.7,113.2 L150.5,114.3 L152.6,113.8 L154.8,113.5 L155.4,110.4 L157.5,110.1 L159.7,109.7 L159.3,111.8 L159.0,113.9 L158.5,115.7 L157.8,117.4 L160.9,117.7 L162.6,118.0 L164.2,118.8 L164.1,120.7 L164.0,122.5 L163.8,124.4 L164.9,125.8 L166.1,127.2 L168.8,126.5 L171.2,127.9 L171.2,129.6 L170.0,128.2 L168.2,129.6 L166.3,128.9 L163.9,127.9 L162.7,126.6 L161.2,125.8 L161.1,124.0 L159.0,121.6 L156.9,120.8 L154.8,120.2 L153.0,118.8 L151.1,117.4 L148.1,117.8 L146.0,116.9 L143.8,116.0 L142.2,114.9 L140.4,114.1 L138.9,112.7 L137.1,111.8 L137.3,110.1 L137.1,108.3 L136.1,106.8 L134.8,105.4 L133.5,104.1 L132.4,102.9 L131.3,101.7 L130.1,100.6 L129.2,99.2 L128.1,98.0 L126.8,97.0 L125.8,95.6 L126.6,97.8 L127.9,99.5 L128.9,101.3 L129.9,102.8 L130.9,104.3 L131.7,105.9 L132.3,107.6 L130.7,106.4 L129.2,105.1 L128.0,104.0 L127.0,102.7 L126.2,101.3 L125.0,98.5 L123.8,96.5 L123.0,94.3 L121.3,92.2 L118.8,91.4 L117.2,88.8 L116.5,86.9 L115.5,85.6 L114.9,84.1 L114.3,81.1 L114.3,79.1 L114.3,77.0 L114.6,75.1 L113.8,72.1 L115.8,72.4 L114.6,70.6 L112.6,69.5 L110.4,68.8 L109.8,66.7 L108.3,65.1 L106.7,63.6 L105.4,62.3 L104.3,60.8 L102.4,59.5 L100.6,58.0 L98.2,57.6 L96.4,57.0 L94.6,56.2 L92.4,56.1 L90.3,55.9 L88.1,55.5 L86.0,54.8 L84.1,55.6 L82.4,56.6 L80.8,57.0 L82.1,55.9 L83.0,54.5 L81.2,55.6 L79.3,56.6 L78.1,59.4 L76.3,60.0 L74.5,60.5 L72.7,61.4 L70.8,61.8 L69.1,62.7 L67.2,63.2 L69.6,61.6 L71.4,60.5 L73.3,59.4 L73.9,57.6 L72.1,57.8 L70.2,57.6 L68.4,57.9 L68.4,55.6 L66.7,55.6 L65.0,55.2 L63.5,53.8 L65.4,51.7 L67.4,50.9 L69.6,50.6 L69.0,49.5 L67.0,49.3 L65.0,49.5 L62.9,49.5 L61.1,48.2 M64.8,63.9 L62.9,64.6 M58.7,66.1 L56.2,66.7 M52.6,67.4 L50.1,67.5 M48.3,67.5 L46.7,67.8 M176.7,30.1 L178.0,28.9 L179.8,29.0 L180.9,27.5 L182.8,27.7 L184.6,27.2 L186.7,27.4 L188.4,26.6 L190.1,25.5 L191.7,25.7 L193.3,24.8 L194.9,24.9 L196.5,24.4 L198.2,25.4 L199.8,24.8 L201.4,25.0 L203.0,24.4 L204.7,24.5 L206.4,23.9 L208.2,24.4 L210.0,24.4 L211.7,24.0 L213.4,23.7 L215.1,23.5 L216.8,22.9 L218.6,23.2 L220.3,22.6 L222.0,23.0 L223.8,22.8 L225.5,22.4 L227.3,22.4 L229.0,22.9 L230.6,22.8 L232.3,22.9 L233.8,23.6 L235.4,24.0 L237.1,23.6 L238.7,23.8 L240.4,24.6 L242.1,24.9 L243.9,25.1 L245.7,24.7 L247.5,24.7 L249.2,25.0 L250.9,25.6 L249.3,26.8 L247.6,27.8 L245.7,28.4 L244.3,29.4 L242.9,30.4 L242.0,31.9 L241.2,35.0 L239.9,36.1 L239.4,37.8 L238.5,39.1 L236.7,40.4 L235.1,41.9 L233.0,43.0 L231.3,44.6 L230.0,45.6 L228.2,45.6 L226.6,45.9 L225.2,46.6 L223.7,47.2 L222.3,48.1 L221.0,49.0 L219.8,50.2 L218.0,50.5 L216.8,51.7 L215.8,53.1 L214.1,53.9 L213.2,55.4 L211.6,54.2 L209.6,54.3 L207.8,53.5 L206.2,52.4 L204.7,51.0 L203.9,49.2 L202.4,48.1 L201.6,46.3 L200.4,44.7 L200.1,42.8 L200.7,41.0 L198.7,40.1 L197.4,38.5 L195.6,37.7 L195.2,35.4 L193.4,34.7 L191.7,33.6 L189.6,34.2 L188.1,32.4 L186.4,31.6 L184.3,31.9 L182.4,31.2 L180.3,31.0 L178.4,30.8 L176.7,30.1 M236.3,48.2 L238.7,47.0 L240.4,47.1 L242.0,46.7 L243.6,47.3 L245.4,46.5 L247.2,46.8 L249.0,48.7 L247.2,49.9 L245.2,50.0 L243.6,51.2 L241.8,50.7 L239.9,50.6 L237.9,50.5 L238.7,49.6 L236.3,48.2 M168.2,36.9 L169.8,37.5 L171.2,38.7 L173.0,38.5 L174.6,38.9 L175.9,40.1 L177.4,40.6 L179.1,40.5 L180.9,40.8 L182.5,41.5 L184.0,42.6 L185.2,44.7 L187.0,45.1 L188.6,45.7 L190.1,46.8 L188.7,47.8 L187.6,48.9 L186.4,51.7 L184.6,52.2 L182.8,51.7 L180.6,51.7 L178.5,51.3 L176.7,51.0 L175.5,49.6 L173.8,48.9 L172.2,49.9 L170.6,49.6 L172.1,48.9 L173.7,48.4 L175.5,48.2 L176.7,46.8 L175.5,44.7 L173.9,44.4 L172.7,43.0 L170.9,43.2 L169.4,42.6 L167.6,42.4 L165.7,42.2 L164.1,42.1 L162.4,42.9 L160.9,41.9 L159.0,41.3 L157.2,40.5 L158.4,37.8 L160.2,36.8 L162.1,37.1 L164.1,36.1 L166.2,37.5 L168.2,36.9 M121.9,40.5 L122.8,39.1 L124.4,38.5 L126.2,38.2 L128.1,38.5 L129.9,38.0 L131.7,37.8 L133.7,37.2 L135.7,37.3 L137.8,37.1 L139.3,37.8 L140.8,38.9 L142.6,39.1 L142.6,41.9 L141.2,43.1 L139.3,42.9 L137.8,43.5 L136.2,44.0 L134.5,44.1 L132.9,43.3 L131.3,43.8 L129.6,43.8 L128.0,44.0 L126.5,43.3 L124.9,42.7 L123.2,43.1 L121.9,40.5 M113.4,39.3 L114.6,36.6 L116.2,36.3 L117.9,36.3 L119.5,35.8 L121.3,36.2 L123.1,36.7 L125.0,37.1 L123.5,37.8 L122.5,39.1 L119.5,40.0 L117.5,39.8 L115.5,39.5 L113.4,39.3 M153.6,35.5 L155.2,35.5 L156.8,36.4 L158.4,36.0 L160.0,36.4 L161.7,36.5 L163.3,35.8 L164.9,35.3 L166.6,35.7 L168.2,35.5 L166.9,33.3 L165.4,32.4 L163.7,32.6 L162.1,33.8 L160.4,33.8 L158.8,33.2 L157.2,33.0 L155.6,34.2 L153.6,33.8 L153.6,35.5 M156.0,32.9 L157.6,32.3 L159.2,31.9 L160.9,32.8 L162.5,32.9 L164.2,33.0 L165.7,32.2 L167.2,31.1 L169.1,31.7 L170.6,30.9 L172.3,30.4 L173.6,29.4 L175.2,28.4 L177.1,29.3 L178.8,29.1 L180.3,28.0 L182.0,27.0 L184.2,27.7 L185.8,26.2 L187.6,25.9 L190.1,24.5 L188.3,24.4 L186.6,23.4 L184.9,23.6 L183.1,24.7 L181.4,24.1 L179.6,23.9 L177.9,23.8 L176.2,24.2 L174.4,24.5 L172.6,24.4 L170.8,23.8 L169.2,25.1 L167.4,24.2 L165.6,24.5 L163.9,25.4 L162.1,24.6 L160.4,25.3 L158.6,25.1 L157.0,25.6 L155.4,26.7 L153.6,26.3 L151.4,26.3 L149.9,28.0 L150.8,29.4 L152.3,30.1 L153.7,32.1 L156.0,32.9 M137.8,36.9 L139.6,36.7 L141.1,37.5 L142.6,38.5 L144.1,37.4 L145.9,38.5 L147.5,37.8 L146.2,36.2 L145.7,34.3 L143.7,34.7 L142.0,33.9 L140.2,33.6 L138.4,34.8 L137.8,36.9 M131.7,34.3 L133.2,35.1 L135.0,34.3 L136.5,35.0 L138.4,32.9 L136.6,33.4 L135.1,31.9 L133.3,32.4 L131.7,32.4 L130.0,32.2 L128.5,33.5 L126.8,32.9 L128.6,32.6 L130.0,34.1 L131.7,34.3 M119.5,33.6 L121.2,33.0 L122.7,32.0 L124.8,33.1 L126.4,32.1 L128.0,31.5 L126.4,30.4 L124.4,30.3 L122.8,31.7 L120.5,30.9 L119.1,32.9 L117.1,32.7 L119.5,33.6 M143.8,31.5 L145.5,32.3 L147.2,31.7 L149.0,31.6 L150.6,32.1 L152.3,32.2 L151.7,30.5 L149.9,29.9 L148.1,30.3 L146.2,30.5 L144.4,29.7 L142.6,29.6 L143.8,31.5 M146.3,28.7 L148.1,28.4 L150.0,28.3 L151.8,28.6 L153.6,29.4 L154.3,27.7 L156.0,27.3 L153.9,27.6 L151.9,27.1 L149.9,26.6 L148.3,27.9 L146.3,28.7 M149.9,39.1 L151.9,39.7 L154.0,39.0 L156.0,39.4 L154.2,38.2 L152.3,37.1 L150.7,37.6 L149.1,37.3 L147.5,37.1 L149.3,37.4 L149.9,39.1 M168.2,52.4 L166.1,53.2 L163.9,53.1 L162.5,51.8 L163.1,49.7 L162.1,48.2 L163.7,48.8 L165.5,48.6 L166.9,49.6 L168.2,52.4 M171.5,127.9 L173.0,126.5 L174.9,124.4 L176.4,123.7 L177.9,123.0 L179.1,123.7 L180.3,122.7 L181.4,124.0 L182.8,125.1 L184.4,124.8 L186.0,125.1 L187.6,124.9 L190.1,124.9 L191.3,127.2 L193.1,128.6 L194.7,129.9 L196.2,131.4 L198.0,131.5 L199.8,131.6 L201.2,132.9 L202.8,133.9 L203.8,135.5 L204.7,137.2 L204.7,139.8 L207.1,140.9 L209.2,141.8 L211.4,142.8 L213.5,143.4 L215.6,143.8 L217.4,144.7 L219.3,145.1 L221.0,146.2 L222.7,147.4 L223.2,150.2 L222.3,153.0 L221.0,154.7 L219.9,156.5 L218.9,157.9 L218.1,159.3 L218.0,160.9 L218.1,162.6 L218.1,164.2 L217.5,166.0 L216.8,167.7 L215.6,170.5 L214.2,171.4 L212.6,171.9 L210.8,172.8 L208.9,173.3 L207.9,174.8 L206.5,176.1 L206.2,177.7 L206.2,179.3 L204.9,181.3 L203.4,183.1 L202.6,184.6 L201.6,186.0 L200.4,187.3 L198.6,188.7 L195.5,188.7 L196.2,190.7 L195.3,193.3 L193.5,193.4 L191.8,193.7 L190.1,194.2 L189.7,196.8 L188.1,196.8 L186.4,197.0 L187.0,199.1 L186.5,200.9 L185.8,202.6 L184.8,203.9 L183.4,204.7 L185.2,206.8 L184.0,208.5 L182.4,209.9 L181.6,212.4 L182.2,214.5 L183.4,215.5 L184.6,216.6 L182.2,217.0 L179.1,216.6 L177.3,215.9 L176.1,214.5 L175.2,212.9 L174.2,211.4 L173.6,209.6 L174.6,207.6 L174.2,205.4 L175.5,203.5 L175.5,201.2 L176.1,199.2 L176.7,197.0 L176.3,195.4 L176.4,193.7 L176.0,192.1 L176.5,190.5 L177.1,189.0 L177.5,187.3 L178.4,185.9 L178.4,184.0 L178.5,182.1 L178.5,180.3 L178.9,178.4 L179.2,176.5 L179.7,174.7 L179.9,172.9 L179.8,171.2 L180.1,169.4 L180.3,167.7 L179.7,165.3 L178.1,164.2 L176.7,162.8 L175.4,161.7 L174.1,160.6 L173.0,159.3 L171.9,157.7 L171.2,155.8 L170.3,154.0 L169.5,152.1 L168.8,150.2 L167.8,148.8 L166.7,147.4 L167.8,144.6 L167.6,141.8 L168.2,139.1 L169.4,137.7 L170.3,136.1 L171.2,134.4 L171.5,132.6 L171.5,130.7 L171.5,127.9 M162.1,109.3 L163.6,108.7 L165.1,108.0 L168.2,107.5 L169.6,108.5 L171.2,109.3 L172.6,110.4 L174.2,111.1 L175.2,111.5 L173.2,111.8 L171.2,111.9 L170.6,110.4 L168.8,110.0 L166.9,109.4 L165.1,109.0 L163.3,109.2 L162.1,109.3 M175.0,114.0 L177.0,111.9 L178.7,111.8 L180.3,112.1 L182.3,113.8 L180.3,114.3 L178.3,115.0 L176.7,114.4 L175.0,114.0 M170.2,114.0 L172.7,114.3 L171.8,114.9 L170.2,114.0 M183.7,114.0 L185.7,114.2 L184.0,114.6 M170.6,105.5 L171.2,104.1 L171.8,105.9 M75.7,111.5 L76.9,112.2 L76.3,113.2 L75.7,111.5 M74.1,110.1 L75.7,110.4 L75.1,110.8 M72.9,109.6 L73.6,110.0 M71.1,108.7 L71.7,109.2 M254.2,79.4 L254.7,81.8 L254.7,83.7 L254.8,85.7 L254.2,85.7 L254.8,88.1 L256.5,87.8 L258.2,89.0 L258.9,89.5 L260.0,88.5 L263.1,88.3 L264.9,86.7 L265.7,85.5 L265.1,84.6 L266.7,82.5 L269.4,81.2 L269.1,79.4 L271.0,79.0 L273.4,79.5 L274.6,78.6 L276.4,77.7 L278.0,78.6 L278.5,79.9 L280.7,81.8 L282.3,82.5 L284.6,83.9 L285.0,86.0 L284.6,86.7 L285.6,86.0 L286.2,84.8 L285.6,83.9 L288.0,83.6 L286.2,82.5 L285.0,81.6 L282.5,80.4 L280.6,77.9 L280.6,76.3 L282.2,76.0 L282.5,77.2 L284.1,78.0 L286.8,79.7 L289.2,81.3 L289.1,83.3 L290.3,84.5 L291.1,86.0 L291.8,88.3 L293.5,88.8 L293.4,86.7 L294.7,86.4 L293.2,84.6 L293.1,83.2 L294.7,82.7 L297.1,82.7 L297.4,83.4 L298.4,83.3 L300.8,82.6 L301.4,82.2 L299.6,81.6 L299.6,80.1 L300.8,78.3 L301.6,76.6 L303.0,74.8 L304.1,74.5 L306.3,75.5 L305.0,76.3 L306.4,77.6 L308.7,76.7 L309.9,76.5 L311.7,73.9 L313.3,74.1 L311.7,75.2 L311.4,76.2 L312.0,77.7 L313.8,79.0 L314.8,80.4 L316.1,81.6 L314.2,82.5 L312.4,82.1 L310.5,82.2 L308.1,81.1 L305.6,81.2 L303.2,82.3 L301.0,82.2 L300.3,83.2 L297.7,83.9 L297.4,84.8 L298.1,85.5 L298.6,87.4 L299.6,88.5 L301.6,89.2 L302.7,88.5 L305.0,89.3 L307.5,88.3 L309.3,88.5 L309.1,90.8 L308.1,93.4 L307.2,95.9 L305.0,96.3 L304.8,96.0 M307.2,96.0 L308.0,98.5 L308.9,99.9 L309.9,101.2 L310.5,103.4 L311.4,105.5 L312.1,107.7 L313.2,109.7 L314.3,111.7 L315.1,113.9 L316.3,115.8 L317.5,117.7 L317.8,119.8 L318.2,122.0 L320.2,121.7 L322.6,121.1 L324.8,120.2 L326.8,119.2 L328.8,118.0 L329.0,117.0 L331.0,116.3 L332.8,115.3 L334.6,113.5 L335.8,111.2 L336.7,111.1 L337.5,109.7 L338.3,108.3 L336.9,106.8 L335.3,106.4 L334.1,105.0 L334.0,103.1 L333.0,104.1 L331.2,106.1 L329.4,105.9 L328.3,105.4 L328.2,103.4 L327.2,104.8 L326.5,102.4 L324.9,101.0 L324.6,99.5 L323.9,98.0 L324.5,97.8 L326.3,97.6 L327.3,99.5 L328.2,100.8 L329.6,101.8 L331.2,102.6 L334.1,101.9 L335.3,103.8 L337.0,104.2 L338.7,104.3 L340.3,104.7 L342.3,104.3 L344.3,104.2 L346.3,104.3 L347.6,106.4 L349.2,108.6 L351.3,110.5 L354.1,109.7 L354.1,111.5 L354.1,113.2 L354.7,115.3 L354.9,117.4 L356.1,120.2 L356.7,122.1 L357.6,124.0 L358.3,125.9 L359.1,127.7 L360.4,128.3 L361.2,126.9 L362.0,125.4 L362.6,123.5 L363.2,121.6 L363.3,119.6 L363.2,117.5 L364.9,117.0 L365.5,116.6 L366.7,115.4 L367.7,114.2 L369.2,113.0 L370.7,111.8 L371.5,109.7 L373.5,109.3 L375.6,108.3 L377.2,108.5 L378.3,110.0 L378.9,111.8 L380.4,114.3 L380.5,117.4 L381.6,117.8 L383.8,116.1 L384.2,117.3 L384.5,119.1 L385.1,121.2 L385.5,123.1 L385.3,125.1 L385.1,126.8 L385.1,128.6 L385.8,128.0 L386.6,129.5 L387.5,130.8 L387.3,133.5 L388.7,135.8 L390.1,136.9 L391.4,137.9 L392.3,137.8 L392.0,136.2 L391.8,134.5 L391.4,132.9 L389.7,131.1 L388.4,130.1 L387.5,128.2 L386.2,126.9 L386.2,124.9 L386.9,123.1 L386.6,121.6 L388.1,121.0 L390.3,122.7 L390.9,124.4 L392.4,125.1 L393.4,127.2 L395.0,126.5 L396.2,125.2 L398.0,124.0 L398.5,121.0 L397.8,118.7 L396.2,116.4 L395.2,115.2 L394.1,113.2 L395.4,110.8 L397.0,109.7 L399.1,109.7 L399.8,111.4 L400.6,109.8 L403.2,109.0 L404.9,108.3 L407.2,107.8 L408.4,106.4 L409.8,105.4 L411.0,103.8 L412.1,101.9 L413.4,100.2 L413.4,97.8 L413.1,96.9 L413.8,95.5 L413.0,94.1 L412.0,92.8 L410.5,91.1 L411.7,89.6 L413.0,88.5 L414.5,87.9 L412.6,86.9 L411.0,87.8 L410.2,87.4 L409.7,86.5 L408.5,85.5 L409.1,85.0 L411.0,84.0 L412.7,82.7 L413.4,82.6 L414.2,83.3 L412.8,85.4 L413.4,85.3 L415.0,84.4 L416.7,84.0 L417.9,84.6 L417.3,86.7 L419.0,87.1 L419.3,88.9 L418.9,90.6 L420.5,91.5 L422.9,90.3 L422.9,88.5 L421.7,85.7 L420.6,84.1 L423.3,82.6 L423.3,81.6 L424.8,80.2 L426.5,79.3 L427.6,79.9 L430.4,78.4 L431.4,77.1 L432.5,76.0 L433.6,74.2 L434.1,73.0 L435.7,72.1 L435.9,70.3 L436.6,68.6 L436.8,65.8 L437.5,66.8 L437.5,65.0 L435.3,64.0 L432.4,64.3 L429.9,63.3 L432.4,61.5 L434.7,59.4 L437.3,57.7 L440.3,56.9 L442.3,56.8 L444.2,57.0 L446.2,56.9 L447.9,56.9 L449.7,57.3 L451.4,57.3 L454.1,56.9 L454.6,55.3 L454.6,53.5 L456.7,53.5 L458.8,53.4 L460.7,53.4 L460.0,55.1 L462.8,55.2 L464.5,54.4 L466.0,52.3 L464.2,52.4 L465.8,50.9 L464.9,52.2 L463.9,53.5 L462.9,54.7 L461.9,56.0 L461.1,57.4 L460.2,58.7 L462.6,59.0 L464.1,61.2 L462.6,63.0 L460.5,63.9 L459.3,65.0 L458.1,66.3 L456.3,68.5 L455.8,66.7 L455.8,64.9 L455.3,62.6 L455.2,60.4 L456.5,59.0 L458.6,58.7 L459.7,57.5 L461.1,56.6 L462.2,55.4 L463.8,54.5 L464.7,52.7 L466.0,53.8 L467.2,55.1 L468.6,56.2 L470.7,55.8 L472.8,55.9 L475.0,54.5 L476.6,53.8 L478.2,53.4 L479.9,53.0 L481.5,52.4 L483.6,52.7 L483.5,50.2 L482.9,49.6 L484.5,48.9 M46.5,48.9 L48.4,48.4 L51.5,48.4 L53.5,49.1 L55.6,49.6 L55.5,48.5 L57.3,48.1 L59.0,47.5 L56.7,46.3 L54.9,46.1 L53.2,45.8 L51.4,45.6 L49.7,44.9 L48.1,44.3 L46.5,43.6 M484.5,43.6 L482.1,42.8 L480.3,42.8 L478.7,42.3 L476.9,42.5 L475.3,42.0 L473.6,42.1 L472.9,41.8 L470.9,41.8 L468.9,42.5 L466.9,42.5 L465.0,42.6 L463.2,42.5 L461.4,42.8 L460.2,41.2 L458.6,40.9 L456.9,41.1 L455.3,41.2 L453.7,41.1 L452.1,40.7 L450.4,40.8 L448.8,40.3 L447.2,39.4 L445.6,38.7 L443.6,38.8 L441.6,38.4 L439.7,38.1 L437.7,38.2 L435.3,39.8 L432.2,40.3 L430.3,40.1 L428.6,39.5 L426.7,39.3 L425.2,39.9 L423.7,40.5 L421.8,38.0 L420.1,37.5 L418.2,37.3 L416.4,37.1 L414.4,37.4 L412.3,37.2 L410.3,37.6 L408.3,37.4 L406.2,37.4 L404.2,36.9 L402.6,35.7 L403.6,33.6 L401.7,33.5 L399.9,32.9 L398.1,32.6 L396.3,32.1 L394.5,31.6 L392.5,31.2 L390.8,32.0 L389.0,32.8 L387.2,33.3 L385.9,33.8 L384.1,33.9 L382.3,33.9 L380.5,33.7 L378.6,33.8 L376.9,34.3 L375.0,34.2 L373.2,34.4 L371.4,34.8 L371.1,36.5 L369.3,36.8 L367.4,36.5 L365.6,36.7 L363.8,36.9 L363.4,38.9 L361.7,38.7 L359.9,38.9 L357.6,38.7 L357.0,37.9 L354.1,38.0 L353.0,40.0 L354.1,41.4 L353.8,43.3 L355.7,45.6 L353.3,47.1 L354.2,45.6 L355.3,44.2 L353.6,43.5 L351.9,42.6 L351.3,41.1 L351.1,39.4 L350.4,37.9 L348.8,39.1 L348.0,40.9 L347.3,42.8 L348.8,44.6 L346.6,43.9 L344.3,43.1 L342.6,42.8 L340.8,42.5 L339.1,42.1 L338.5,44.0 L336.5,44.3 L334.4,44.3 L332.4,44.2 L330.8,43.5 L328.8,43.9 L326.9,44.3 L325.1,45.0 L323.4,45.5 L321.7,45.9 L321.0,46.8 L318.9,47.4 L319.3,48.5 L317.8,47.0 L315.5,46.4 L314.2,47.1 L312.2,47.5 L310.4,47.1 L308.6,47.1 L306.9,46.1 L306.9,46.8 L307.6,48.7 L309.5,50.2 L310.6,49.9 L310.6,48.8 L312.7,48.9 L314.7,49.2 L314.3,48.1 L316.7,47.0 L319.2,47.5 L319.3,49.9 L317.3,50.1 L315.4,50.0 L314.2,49.3 L311.7,49.6 L309.9,49.3 L308.1,49.9 L307.4,51.9 L308.6,53.5 L305.6,52.4 L304.4,51.0 L304.7,49.3 L307.8,48.9 L305.9,46.7 L307.2,46.6 L306.3,45.3 L308.2,46.0 L310.3,46.6 L312.2,47.5 L314.2,47.1 L315.5,45.4 L315.4,44.6 L312.3,43.9 L310.7,43.7 L309.1,43.1 L307.4,42.9 L305.8,42.8 L303.2,42.2 L301.9,41.1 L300.2,40.7 L298.4,40.3 L296.6,40.3 L294.8,40.1 L293.2,40.5 L291.7,41.5 L289.8,41.8 L288.0,42.2 L285.8,42.8 L283.8,43.9 L281.3,45.6 L280.7,47.5 L281.3,49.3 L280.2,50.8 L278.4,51.2 L275.6,51.4 L273.9,51.6 L272.4,52.4 L271.6,53.3 L271.8,55.9 L272.4,57.9 L274.0,58.7 L275.7,58.3 L278.2,56.6 L278.9,57.5 L279.5,58.7 L280.5,60.9 L281.2,62.3 L282.8,62.3 L285.0,61.2 L285.6,60.1 L285.9,57.7 L287.2,56.6 L288.6,55.9 L286.5,54.1 L287.2,52.1 L288.8,51.2 L290.4,50.5 L291.9,49.4 L292.9,47.8 L294.6,48.5 L296.4,48.8 L295.6,50.0 L293.9,51.2 L291.9,51.7 L291.4,53.4 L291.7,54.9 L293.2,55.9 L294.7,55.0 L296.4,55.2 L298.0,55.8 L299.7,55.2 L300.9,56.1 L299.0,56.8 L297.3,57.3 L295.6,56.8 L294.0,56.8 L294.3,57.5 L295.1,59.0 L294.8,60.2 L293.0,60.3 L291.2,60.1 L291.1,61.5 L291.2,63.3 L289.6,63.7 L288.1,63.3 L286.9,63.0 L285.2,63.8 L283.5,64.3 L282.0,63.7 L279.4,64.3 L278.8,63.7 L278.8,60.9 L277.9,60.2 L276.0,60.7 L275.4,62.2 L275.8,64.3 L274.1,64.7 L271.6,65.7 L271.2,65.8 L269.5,68.1 L267.4,68.6 L265.5,70.3 L263.2,70.2 L263.8,71.8 L261.9,71.7 L259.9,71.7 L259.9,72.8 L262.8,73.9 L264.0,75.5 L263.8,78.3 L263.2,79.1 L260.3,79.1 L258.1,78.7 L255.9,78.7 L254.2,79.4 M322.7,76.5 L325.4,74.8 L327.6,73.9 L330.0,74.4 L330.0,76.5 L327.9,76.6 L327.9,77.6 L326.7,77.4 L327.9,79.4 L329.6,80.4 L329.9,82.0 L331.1,83.0 L331.2,85.3 L330.6,87.8 L327.6,88.3 L325.4,87.2 L325.0,85.5 L325.4,83.6 L325.8,83.0 L324.0,81.2 L323.3,79.8 L322.9,78.2 L322.7,76.5 M336.1,74.6 L337.9,75.1 L339.7,75.5 L340.3,78.3 L337.3,77.6 L336.1,74.6 M304.8,96.0 L302.0,95.7 L300.7,96.6 L298.4,96.2 L296.2,95.6 L293.5,94.2 L291.7,93.9 L290.0,94.8 L289.6,96.7 L287.4,96.7 L285.0,96.0 L284.0,94.6 L281.4,93.8 L279.4,93.5 L277.9,91.8 L279.0,90.6 L278.6,88.9 L279.0,87.9 L277.1,87.6 L275.7,88.2 L273.7,88.2 L271.6,88.3 L269.4,88.3 L267.8,88.7 L266.1,89.0 L264.0,89.9 L262.8,90.6 L261.0,90.3 L259.2,89.7 L258.0,89.7 L257.1,92.1 L255.0,93.2 L254.5,94.8 L253.6,96.2 L253.8,98.0 L252.2,99.5 L250.2,100.6 L248.6,101.7 L248.0,103.0 L247.1,105.5 L246.0,106.6 L245.7,108.0 L244.9,110.1 L245.5,112.4 L245.9,114.5 L245.4,117.3 L244.3,119.2 L245.2,120.7 L245.1,122.7 L246.6,123.8 L247.6,124.8 L249.4,127.3 L250.5,128.6 L251.3,130.0 L253.5,131.4 L254.8,132.7 L256.4,133.7 L258.4,132.8 L260.2,132.8 L262.0,132.8 L264.5,131.6 L266.8,131.2 L268.8,130.9 L270.7,130.9 L271.8,132.3 L272.7,133.7 L274.1,133.5 L275.8,133.0 L277.3,134.7 L277.4,136.5 L276.8,138.1 L277.1,139.9 L276.2,141.3 L277.8,143.8 L279.0,145.2 L280.0,146.7 L280.3,148.3 L280.7,150.1 L281.4,151.8 L282.0,154.7 L282.2,156.5 L280.7,158.6 L280.0,160.8 L279.7,163.1 L280.4,165.2 L281.1,167.3 L282.1,168.9 L282.9,170.6 L283.3,173.7 L283.8,175.6 L284.0,177.6 L285.3,179.7 L286.4,182.6 L287.6,185.0 L287.9,187.4 L289.3,188.4 L291.7,187.7 L293.5,187.1 L295.2,186.8 L296.9,186.8 L299.0,186.1 L300.1,184.8 L301.3,183.5 L302.3,182.0 L303.6,180.8 L304.9,179.3 L305.5,176.4 L305.2,175.7 L306.7,174.7 L308.3,174.0 L308.4,172.3 L308.7,170.6 L307.8,168.4 L308.3,167.0 L310.3,165.0 L311.9,164.1 L313.6,163.1 L314.5,161.8 L315.1,160.3 L315.1,158.5 L314.9,156.7 L314.8,154.8 L314.1,152.9 L313.4,150.9 L313.2,148.8 L312.6,146.3 L313.6,144.9 L314.5,143.4 L316.1,142.1 L317.0,140.7 L317.9,139.3 L319.2,137.7 L320.6,136.6 L322.2,135.7 L323.2,133.9 L324.6,132.3 L325.2,130.4 L326.0,128.6 L327.0,126.9 L327.7,124.9 L327.6,123.1 L325.5,123.8 L323.9,124.1 L322.1,124.8 L320.2,125.2 L318.7,124.5 L318.4,123.5 L317.5,122.3 L316.4,120.9 L315.4,119.5 L314.2,118.2 L313.2,117.4 L312.2,114.6 L311.1,113.8 L310.9,112.1 L310.6,110.4 L309.3,108.5 L308.7,106.1 L307.6,103.3 L306.7,101.2 L305.8,100.1 L304.9,98.0 L305.3,99.2 L306.6,101.0 L307.0,100.9 L308.0,98.5 L307.2,96.0 M325.7,156.7 L326.2,158.9 L326.9,161.0 L326.3,163.2 L325.6,164.9 L325.2,166.7 L324.5,168.4 L324.2,170.4 L323.8,172.3 L323.3,174.3 L320.7,175.5 L319.0,174.5 L318.6,172.5 L318.2,170.5 L319.6,168.3 L319.3,166.2 L319.0,164.2 L319.5,162.4 L321.8,161.8 L323.5,160.1 L324.7,158.4 L325.4,156.5 L325.7,156.7 M258.6,69.9 L261.2,69.5 L262.9,69.3 L264.5,68.8 L267.2,68.2 L267.6,66.1 L265.9,65.4 L264.9,63.6 L263.4,62.1 L262.2,61.2 L263.2,59.4 L261.5,57.9 L259.4,57.9 L258.0,59.7 L258.7,61.1 L259.2,61.9 L259.8,63.2 L261.4,63.0 L261.9,64.4 L261.9,65.3 L260.0,65.3 L260.4,66.7 L259.2,67.5 L261.4,67.9 L260.0,68.2 L258.6,69.9 M258.0,64.4 L258.2,66.8 L257.0,67.1 L255.3,67.2 L253.7,67.7 L253.3,66.0 L253.8,64.4 L255.4,63.5 L256.6,62.5 L258.2,62.6 L258.0,64.4 M278.9,29.8 L281.3,28.3 L282.9,27.5 L284.5,27.4 L286.2,28.0 L288.4,27.9 L290.4,27.3 L292.4,27.9 L294.4,27.4 L296.4,27.7 L298.4,27.7 L296.9,28.9 L295.1,29.0 L293.1,28.8 L291.7,29.9 L290.0,30.1 L288.6,31.0 L286.9,31.4 L285.6,32.7 L284.0,31.3 L281.9,31.2 L280.3,30.8 L278.9,29.8 M328.8,40.0 L330.6,37.8 L331.8,36.6 L333.2,35.4 L334.9,34.5 L336.4,33.9 L338.1,33.6 L339.7,33.1 L341.8,33.0 L343.8,32.9 L345.8,32.4 L348.8,32.2 L347.0,32.7 L345.2,33.4 L343.4,34.1 L341.3,34.6 L339.3,35.4 L337.3,36.1 L335.4,37.2 L333.6,38.5 L335.5,40.8 L333.8,41.1 L332.2,40.7 L330.6,40.8 L328.8,40.0 M322.7,27.6 L324.7,27.2 L326.8,27.3 L328.8,26.9 L330.4,27.0 L332.0,26.8 L333.6,26.8 L335.3,26.9 L336.9,27.2 L338.5,27.1 L340.9,26.3 L339.2,26.1 L337.5,26.3 L335.8,26.3 L334.1,25.9 L332.4,25.9 L330.8,26.1 L329.2,26.5 L327.6,26.9 L325.9,26.9 L324.3,27.5 L322.7,27.6 M379.9,29.4 L381.7,29.0 L383.5,28.8 L385.4,28.8 L387.2,28.3 L389.6,29.0 L392.0,29.9 L390.2,30.1 L388.4,30.2 L386.6,30.6 L384.7,30.8 L383.1,30.4 L381.5,30.0 L379.9,29.4 M382.3,27.3 L384.0,27.2 L385.6,26.7 L387.2,26.3 L385.7,27.2 L384.1,28.0 M432.2,35.0 L433.8,34.5 L435.4,34.5 L437.1,34.3 L439.1,34.4 L441.1,34.3 L443.1,34.4 L441.6,35.3 L439.9,35.8 L438.3,36.6 L436.3,35.9 L434.2,35.6 L432.2,35.0 M435.8,37.1 L433.9,36.8 L432.2,36.1 M482.7,40.3 L484.5,40.1 M46.5,40.1 L49.5,40.1 M328.8,74.8 L329.0,74.4 M362.7,130.5 L365.0,129.6 L364.4,127.7 L363.0,126.1 L362.5,128.3 L362.7,130.5 M411.6,107.6 L412.5,106.1 L413.4,104.7 L413.9,105.5 L413.2,107.3 L412.5,109.2 L411.6,107.6 M397.6,112.9 L399.3,111.7 L400.6,112.4 L398.7,114.3 L397.6,112.9 M424.6,92.2 L425.7,91.4 L427.3,90.0 L430.2,90.0 L431.9,87.8 L433.9,86.8 L435.6,85.0 L435.8,83.0 L437.5,81.9 L438.1,84.0 L436.8,86.4 L436.9,88.5 L436.1,90.6 L434.7,90.8 L433.5,91.4 L431.9,91.8 L429.9,92.4 L429.3,91.3 L427.7,91.7 L425.4,92.4 L424.6,92.2 M423.9,92.8 L426.0,92.8 L425.4,95.9 L423.9,95.9 L423.4,93.6 L423.9,92.8 M426.7,92.5 L429.3,92.5 L427.3,93.9 L426.7,92.5 M435.8,80.6 L437.4,81.6 L439.7,81.1 L441.2,80.2 L442.5,79.3 L441.6,78.3 L439.5,77.6 L438.1,76.2 L437.4,79.1 L435.8,80.6 M438.3,75.5 L440.1,74.8 L439.6,72.7 L439.5,70.6 L441.2,71.0 L440.8,69.0 L440.1,67.1 L439.7,64.3 L438.9,63.9 L438.5,65.8 L438.4,67.8 L438.4,69.7 L438.5,71.6 L438.1,73.6 L438.3,75.5 M446.2,76.6 L444.4,77.9 L446.1,76.6 L448.0,75.5 L450.4,73.8 L451.8,72.5 L452.9,70.9 L454.3,69.6 L455.9,68.8 M412.2,113.9 L414.2,113.9 L414.3,116.0 L413.4,117.5 L413.9,119.6 L416.2,120.5 L416.6,122.3 L415.0,120.9 L412.8,120.7 L412.2,119.6 L411.4,117.0 L412.2,113.9 M418.2,122.7 L418.4,124.5 L417.3,125.6 L416.7,123.7 L418.2,122.7 M414.5,123.7 L415.5,125.2 L414.2,126.3 L414.5,123.7 M415.8,128.6 L417.8,127.3 L419.3,128.0 L419.2,130.8 L418.1,131.9 L416.4,130.1 L413.9,130.1 L415.8,128.6 M408.1,128.0 L409.5,126.2 L411.1,124.5 L409.7,126.5 L408.1,128.0 M381.4,132.1 L384.1,132.5 L385.2,133.7 L386.8,135.3 L387.9,136.8 L389.2,136.8 L390.9,138.9 L391.8,141.3 L393.2,143.0 L394.6,144.1 L394.3,146.0 L394.3,148.0 L392.9,148.0 L391.9,146.7 L390.3,145.6 L388.9,143.7 L388.0,142.2 L387.4,140.6 L386.3,139.5 L385.5,137.2 L384.4,136.3 L382.8,134.3 L381.6,132.8 L381.4,132.1 M394.2,148.1 L395.8,148.6 L397.5,148.7 L399.9,149.4 L402.5,149.4 L404.8,150.6 L404.9,152.0 L402.5,151.5 L400.1,151.1 L397.3,150.6 L395.1,150.1 L393.7,149.4 L394.2,148.1 M406.1,151.5 L407.2,152.0 L410.3,151.6 L413.1,152.2 L415.6,151.5 L414.5,151.9 L413.3,153.0 L412.1,154.0 L410.3,152.9 L408.5,152.3 L406.1,151.5 M416.4,152.6 L417.7,151.8 L420.4,151.5 L419.2,152.7 L417.8,153.6 L415.9,154.3 L416.4,152.6 M399.0,140.2 L398.1,137.1 L399.6,137.4 L400.8,136.0 L403.0,135.4 L404.4,133.5 L406.0,132.2 L407.5,130.1 L408.7,130.8 L410.5,132.2 L409.6,132.8 L408.9,134.0 L408.2,135.3 L409.1,137.2 L410.3,138.5 L408.5,139.6 L408.2,141.0 L407.4,141.8 L407.2,143.6 L406.8,145.3 L405.3,145.5 L404.0,144.5 L401.4,143.9 L400.6,143.9 L399.6,143.8 L399.3,142.0 L399.0,140.2 M411.9,139.2 L413.9,139.3 L416.0,139.5 L417.6,137.5 L416.9,139.2 L414.7,139.7 L412.6,140.4 L413.3,142.4 L415.4,141.3 L414.3,143.2 L413.7,145.3 L414.8,146.0 L413.6,146.7 L412.0,147.4 L411.8,145.7 L412.0,143.9 L410.3,144.6 L410.5,142.5 L410.9,140.4 L411.9,139.2 M421.1,136.7 L422.0,137.7 L421.2,139.5 L420.5,138.4 L421.1,136.7 M419.9,145.1 L419.0,144.4 L420.3,144.4 M421.5,144.6 L424.3,144.1 L423.2,144.9 M424.9,141.7 L426.6,140.3 L428.7,140.9 L429.1,143.7 L431.0,142.8 L432.7,142.1 L434.9,142.7 L437.1,143.4 L439.3,144.2 L441.4,145.2 L443.1,146.9 L445.1,148.3 L444.6,150.1 L446.4,152.5 L448.0,154.1 L449.0,154.1 L447.6,154.6 L445.4,153.9 L443.9,152.2 L441.6,150.4 L439.8,151.2 L440.0,152.3 L439.0,152.7 L437.1,152.5 L434.7,151.1 L433.4,151.5 L434.3,149.9 L433.9,148.4 L433.3,147.3 L431.7,146.4 L430.0,146.0 L428.2,144.6 L427.1,145.3 L426.1,143.7 L428.2,142.8 L426.3,142.8 L424.9,141.7 M449.0,143.2 L451.0,145.1 L451.6,146.5 L449.9,145.6 L449.0,143.2 M445.9,147.6 L448.1,146.7 L450.6,146.3 L450.2,147.6 L448.2,148.6 L445.9,147.6 M453.6,146.9 L455.2,149.3 L455.3,148.8 M459.8,150.9 L460.7,152.6 L462.2,154.0 M468.1,160.7 L469.0,162.0 M465.3,168.3 L466.7,169.2 L468.7,170.8 L466.2,169.8 L465.3,168.3 M481.3,164.1 L482.9,165.0 M403.6,170.8 L403.9,172.5 L404.0,174.3 L403.8,176.1 L404.5,177.8 L404.8,179.6 L405.4,182.5 L405.9,184.3 L406.3,186.1 L405.4,187.5 L407.1,188.4 L408.9,188.8 L411.4,187.1 L414.2,187.1 L416.4,186.6 L418.9,184.7 L420.7,184.5 L422.4,183.9 L425.2,183.8 L427.9,184.6 L429.6,186.6 L430.6,188.5 L432.2,186.8 L433.2,185.3 L432.4,187.8 L433.6,187.7 L433.5,189.5 L435.3,190.2 L436.6,192.8 L438.5,193.4 L441.3,193.0 L443.0,193.8 L444.8,192.8 L447.6,192.1 L448.1,189.8 L449.3,187.0 L451.0,185.2 L451.8,182.2 L452.4,179.6 L452.2,177.9 L451.8,176.2 L451.4,175.1 L450.5,173.2 L449.1,171.6 L447.6,170.9 L446.5,168.3 L445.2,167.0 L443.6,166.2 L443.0,163.4 L442.2,161.3 L441.3,159.6 L440.1,157.6 L438.9,154.7 L438.1,157.2 L438.0,159.0 L437.7,160.7 L437.1,163.2 L435.0,164.1 L433.2,162.5 L431.6,161.5 L430.2,160.3 L431.3,158.3 L431.8,156.8 L430.7,156.4 L429.1,155.8 L427.3,155.7 L426.0,155.5 L423.9,157.8 L423.2,160.6 L421.0,159.7 L419.0,159.6 L417.7,161.5 L415.8,163.5 L414.2,164.6 L413.0,167.0 L410.3,167.7 L408.3,168.7 L406.9,169.1 L405.3,170.1 L403.6,170.8 M441.6,196.6 L443.6,197.2 L445.9,196.9 L445.6,198.5 L445.6,200.1 L444.1,200.7 L442.4,198.7 L441.6,196.6 M475.5,188.0 L477.6,189.1 L478.8,191.7 L480.8,191.8 L482.7,192.4 L481.1,194.4 L480.3,195.9 L479.6,197.5 L478.7,198.0 L478.1,195.5 L477.0,194.5 L477.9,191.9 L476.7,189.9 L475.5,188.0 M475.7,196.3 L477.4,197.5 L476.3,199.8 L474.2,201.5 L473.2,203.9 L471.5,204.9 L469.9,204.6 L468.3,204.3 L468.1,203.2 L470.4,201.4 L473.1,199.8 L474.8,197.6 L475.7,196.3 M46.5,258.6 L48.2,258.5 L49.9,258.4 L51.6,258.3 L53.3,258.4 L54.9,258.5 L56.6,258.8 L58.3,258.3 L60.0,258.5 L61.7,258.7 L63.3,258.4 L65.0,258.4 L66.7,258.7 L68.3,258.7 L70.0,258.5 L71.7,258.3 L73.3,258.5 L75.0,258.5 L76.6,258.4 L78.2,258.7 L79.9,258.3 L81.5,258.4 L83.1,258.6 L84.7,258.2 L86.4,258.4 L88.0,258.4 L86.1,258.0 L84.3,257.7 L82.3,257.8 L80.4,257.5 L78.6,257.0 L77.7,255.3 L77.2,253.5 L78.9,253.5 L80.4,252.9 L82.1,252.9 L83.8,252.8 L85.4,252.3 L87.0,252.1 L85.2,252.0 L83.5,251.5 L81.8,251.5 L80.0,251.4 L78.2,251.2 L76.5,250.6 L74.7,250.4 L73.0,250.0 L73.0,247.9 L74.6,247.6 L76.2,247.2 L77.9,247.3 L79.6,247.2 L81.2,246.8 L82.8,246.5 L84.7,246.5 L86.5,245.8 L88.4,245.8 L90.2,245.6 L92.0,245.6 L93.8,245.7 L95.6,245.6 L97.4,245.2 L99.2,245.1 L101.0,245.1 L102.7,245.2 L104.5,245.4 L106.2,245.8 L108.0,245.8 L109.7,244.8 L111.6,244.2 L113.3,243.3 L115.0,242.3 L116.7,242.5 L118.5,242.4 L120.2,242.4 L122.0,242.3 L123.8,242.6 L125.5,242.9 L127.3,243.3 L129.0,243.7 L131.0,243.8 L133.0,243.5 L135.0,243.6 L137.0,243.7 L139.1,243.1 L141.2,242.3 L142.5,241.2 L144.0,240.2 L146.1,240.3 L148.2,240.9 L149.8,240.7 L151.5,241.1 L153.1,241.0 L154.7,241.4 L156.4,241.4 L158.0,241.3 L159.6,241.5 L161.2,241.1 L162.8,240.9 L164.4,240.9 L166.0,241.0 L167.6,241.1 L169.2,240.9 L171.1,240.6 L172.9,240.1 L174.8,240.2 L176.1,238.7 L177.6,237.4 L180.4,236.0 L181.9,234.7 L183.2,233.2 L184.8,232.0 L186.0,230.4 L188.2,229.5 L190.2,228.3 L192.1,228.0 L194.0,227.4 L195.8,226.9 L197.0,227.6 L195.8,228.9 L194.2,229.7 L193.0,231.0 L192.6,232.7 L192.0,234.3 L191.6,236.0 L191.0,238.1 L190.2,240.2 L190.8,242.3 L191.6,244.4 L189.8,245.5 L187.9,246.4 L186.0,247.2 L183.2,247.9 L185.0,247.5 L186.8,247.7 L188.6,248.1 L190.4,247.9 L192.2,247.8 L194.0,247.8 L195.8,247.9 L197.6,248.3 L199.5,248.1 L201.3,248.1 L203.1,248.5 L205.0,248.5 L206.6,248.7 L208.2,248.9 L209.8,248.6 L211.4,248.9 L213.0,249.2 L214.6,249.3 L216.2,249.4 L217.8,249.1 L219.4,249.3 L221.0,249.5 L222.6,249.0 L224.2,248.6 L225.8,248.7 L227.4,248.1 L229.0,248.0 L230.6,247.3 L232.2,247.2 L233.8,246.7 L235.4,246.2 L237.0,246.0 L238.7,245.5 L240.4,245.0 L241.9,244.0 L243.7,243.7 L245.4,243.1 L247.0,242.3 L248.6,241.8 L250.3,241.1 L252.0,240.7 L253.7,240.1 L255.4,239.7 L257.2,239.4 L258.9,238.9 L260.5,238.3 L262.2,237.7 L264.0,237.5 L265.7,237.2 L267.4,237.2 L269.1,236.8 L270.8,236.7 L272.6,236.4 L274.3,236.5 L276.0,236.2 L277.6,236.2 L279.2,235.8 L280.8,235.8 L282.4,235.9 L284.0,235.9 L285.6,235.9 L287.2,235.5 L288.8,235.5 L290.4,235.7 L292.0,235.5 L293.7,235.4 L295.4,235.3 L297.1,235.3 L298.9,235.6 L300.6,235.2 L302.3,235.3 L304.0,235.2 L305.7,235.0 L307.4,235.0 L309.2,235.1 L310.9,235.1 L312.6,234.7 L314.3,234.5 L316.0,234.6 L317.6,234.4 L319.2,233.9 L320.8,233.5 L322.4,233.6 L324.0,233.1 L325.6,233.0 L327.2,232.5 L328.8,232.2 L330.4,232.6 L332.0,232.6 L333.6,232.7 L335.2,232.9 L336.8,233.4 L338.4,233.6 L340.0,233.8 L341.6,234.1 L343.2,233.8 L344.8,234.1 L346.4,234.1 L348.0,234.2 L349.6,234.1 L351.2,234.2 L352.8,234.4 L354.4,234.7 L356.0,234.6 L357.6,234.2 L359.2,234.3 L360.8,234.3 L362.4,234.2 L364.0,233.6 L365.6,233.5 L367.2,233.7 L368.8,233.6 L370.4,233.2 L372.0,233.0 L373.6,232.7 L375.2,233.1 L376.8,232.7 L378.4,232.9 L380.0,232.7 L381.6,232.7 L383.2,232.3 L384.8,232.5 L386.4,232.1 L388.0,232.2 L389.6,232.2 L391.2,232.4 L392.8,232.4 L394.4,232.0 L396.0,232.1 L397.6,232.2 L399.2,232.2 L400.8,232.1 L402.4,232.0 L404.0,232.2 L405.6,232.2 L407.2,232.6 L408.8,232.9 L410.4,232.6 L412.0,233.0 L413.6,233.3 L415.2,233.1 L416.8,233.6 L418.4,233.4 L420.0,233.8 L421.6,233.8 L423.3,233.7 L424.9,233.6 L426.5,233.4 L428.2,233.4 L429.8,233.4 L431.5,233.3 L433.1,233.3 L434.7,233.1 L436.4,233.0 L438.0,233.0 L439.6,233.0 L441.2,233.5 L442.8,233.7 L444.4,233.8 L446.0,234.3 L447.6,234.6 L449.2,234.7 L450.8,234.8 L452.4,235.2 L454.0,235.4 L455.8,235.7 L457.6,236.2 L459.4,236.8 L461.2,237.3 L463.1,237.4 L464.8,237.8 L466.7,238.1 L468.5,238.2 L470.3,238.7 L472.1,239.2 L474.0,239.6 L472.2,240.6 L470.3,241.0 L468.5,241.9 L466.9,242.7 L465.5,243.8 L464.0,244.7 L465.8,246.5 L468.0,246.0 L470.3,246.0 L468.9,247.1 L467.6,248.3 L465.3,248.9 L463.0,249.3 L461.9,250.5 L461.2,252.0 L462.8,252.8 L464.2,254.0 L465.8,254.8 L467.6,255.4 L469.5,255.6 L471.3,256.0 L473.2,256.1 L475.0,256.6 L476.9,257.0 L478.8,257.0 L480.7,257.4 L482.6,257.5 L484.5,257.5 M142.6,39.1 L144.6,38.9 L146.3,39.8 L148.1,37.8 L146.8,36.6 L145.1,36.4 L142.0,37.1 L142.6,39.1 M149.3,38.5 L152.3,39.1 L154.3,38.7 L155.4,37.1 L152.3,36.4 L149.3,36.9 L149.3,38.5 M142.6,34.3 L144.5,33.7 L146.3,34.7 L146.9,32.9 L145.0,33.0 L143.2,32.6 L142.6,34.3 M148.7,35.2 L151.7,35.4 L151.7,34.0 L148.7,34.1 L148.7,35.2 M125.6,35.0 L127.6,35.5 L129.7,34.5 L131.7,35.2 L133.8,35.7 L135.7,34.4 L137.8,34.5 L136.5,33.1 L134.9,32.5 L133.3,33.6 L131.7,32.9 L130.0,33.0 L128.4,32.3 L126.8,33.1 L125.1,34.2 L123.2,34.3 L125.6,35.0 M119.5,32.9 L121.4,32.8 L123.2,33.6 L125.0,32.2 L121.9,31.3 L120.1,31.6 L118.3,31.9 L119.5,32.9 M153.6,30.1 L155.2,29.7 L156.8,29.2 L158.4,30.1 L159.7,28.0 L157.6,27.8 L156.0,26.6 L154.5,27.4 L152.6,26.3 L151.1,27.3 L149.9,29.1 L151.7,29.9 L153.6,30.1 M168.2,37.8 L169.7,38.6 L171.4,37.3 L173.0,38.0 L171.8,36.8 L169.9,36.8 L168.2,37.8 M145.1,43.3 L147.0,42.9 L148.7,43.9 L149.3,42.6 L146.3,42.2 L145.1,43.3 M160.9,50.3 L162.5,50.6 L164.1,51.0 L165.7,51.0 L167.6,49.6 L165.3,49.0 L163.3,47.8 L161.3,47.7 L159.7,48.9 L160.9,50.3 M151.1,42.6 L150.5,39.8 L153.0,39.1 L154.4,39.9 L156.0,40.5 L157.2,42.6 M134.1,40.5 L135.7,40.5 L137.4,40.8 L139.0,39.8 L140.2,41.2 L138.4,42.2 L136.5,41.7 L134.1,40.5 M162.1,45.4 L163.9,45.1 L164.5,43.3 L166.9,44.7 L165.1,46.4 M170.6,41.2 L173.0,41.9 L174.9,40.8 M153.6,74.5 L156.0,74.6 L157.8,74.8 L159.7,74.8 L162.1,74.6 L162.6,74.8 L162.1,73.4 L160.3,71.7 L157.2,72.7 L155.4,73.6 L153.6,74.5 M158.7,81.1 L159.0,78.3 L160.6,75.8 L162.1,75.5 L161.5,76.9 L160.4,79.7 L159.7,81.5 L158.7,81.1 M162.7,75.5 L164.5,76.0 L166.3,76.2 L168.2,77.6 L166.1,79.7 L165.1,79.7 L163.9,78.3 L163.3,76.2 L162.7,75.5 M163.9,81.5 L166.9,80.9 L169.4,79.9 L168.8,80.4 L167.3,81.2 L165.7,81.8 L163.9,81.5 M168.4,79.3 L170.2,79.1 L171.8,78.6 L172.8,78.8 L171.0,79.1 L169.1,79.4 L168.4,79.3 M145.1,69.2 L147.5,69.2 L147.1,67.1 L146.9,65.0 L145.1,65.4 L144.9,67.3 L145.1,69.2 M113.4,48.9 L114.6,47.8 L115.8,46.8 L117.5,46.3 L119.1,47.3 L120.7,46.8 L119.5,48.2 L117.9,49.5 L115.8,49.2 L113.4,48.9 M123.2,54.2 L125.4,54.1 L127.1,52.5 L129.2,52.3 L131.1,52.3 L128.9,52.7 L126.8,53.7 L124.8,53.1 L123.2,54.2 M193.4,73.2 L195.4,73.3 L197.4,73.2 L198.0,74.5 L201.0,74.5 L201.4,73.0 L200.3,71.0 L198.0,70.4 L197.4,67.7 L195.5,68.1 L194.3,70.0 L193.2,72.0 L193.4,73.2 M187.0,70.0 L190.1,70.7 L190.3,71.1 L187.6,70.3 M187.6,74.6 L190.1,74.9 L188.8,75.3 M275.7,82.5 L277.2,82.3 L277.4,85.0 L276.0,85.4 L275.7,82.5 M276.0,79.8 L276.9,79.7 L277.1,81.6 L276.2,81.6 L276.0,79.8 M280.6,86.5 L282.5,86.3 L284.5,86.2 L283.9,88.5 L282.3,88.1 L280.8,87.2 L280.6,86.5 M294.2,90.0 L295.9,90.1 L297.5,90.6 L295.3,91.0 L294.2,90.0 M304.8,90.8 L307.6,90.0 L306.7,91.3 L304.8,90.8" stroke="#000" stroke-width="0.8" fill="none" stroke-linejoin="round"/>
</g>
<rect x="46.5" y="14.0" width="438.0" height="251.5" fill="none" stroke="#000" stroke-width="1"/>
<path d="M46.50,265.5 V274.5 M46.50,14.0 V5.0 M58.67,265.5 V269.8 M58.67,14.0 V9.7 M70.83,265.5 V269.8 M70.83,14.0 V9.7 M83.00,265.5 V269.8 M83.00,14.0 V9.7 M95.17,265.5 V269.8 M95.17,14.0 V9.7 M107.33,265.5 V269.8 M107.33,14.0 V9.7 M119.50,265.5 V274.5 M119.50,14.0 V5.0 M131.67,265.5 V269.8 M131.67,14.0 V9.7 M143.83,265.5 V269.8 M143.83,14.0 V9.7 M156.00,265.5 V269.8 M156.00,14.0 V9.7 M168.17,265.5 V269.8 M168.17,14.0 V9.7 M180.33,265.5 V269.8 M180.33,14.0 V9.7 M192.50,265.5 V274.5 M192.50,14.0 V5.0 M204.67,265.5 V269.8 M204.67,14.0 V9.7 M216.83,265.5 V269.8 M216.83,14.0 V9.7 M229.00,265.5 V269.8 M229.00,14.0 V9.7 M241.17,265.5 V269.8 M241.17,14.0 V9.7 M253.33,265.5 V269.8 M253.33,14.0 V9.7 M265.50,265.5 V274.5 M265.50,14.0 V5.0 M277.67,265.5 V269.8 M277.67,14.0 V9.7 M289.83,265.5 V269.8 M289.83,14.0 V9.7 M302.00,265.5 V269.8 M302.00,14.0 V9.7 M314.17,265.5 V269.8 M314.17,14.0 V9.7 M326.33,265.5 V269.8 M326.33,14.0 V9.7 M338.50,265.5 V274.5 M338.50,14.0 V5.0 M350.67,265.5 V269.8 M350.67,14.0 V9.7 M362.83,265.5 V269.8 M362.83,14.0 V9.7 M375.00,265.5 V269.8 M375.00,14.0 V9.7 M387.17,265.5 V269.8 M387.17,14.0 V9.7 M399.33,265.5 V269.8 M399.33,14.0 V9.7 M411.50,265.5 V274.5 M411.50,14.0 V5.0 M423.67,265.5 V269.8 M423.67,14.0 V9.7 M435.83,265.5 V269.8 M435.83,14.0 V9.7 M448.00,265.5 V269.8 M448.00,14.0 V9.7 M460.17,265.5 V269.8 M460.17,14.0 V9.7 M472.33,265.5 V269.8 M472.33,14.0 V9.7 M484.50,265.5 V274.5 M484.50,14.0 V5.0 M46.5,265.50 H38.0 M484.5,265.50 H493.0 M46.5,251.53 H42.2 M484.5,251.53 H488.8 M46.5,237.56 H42.2 M484.5,237.56 H488.8 M46.5,223.58 H38.0 M484.5,223.58 H493.0 M46.5,209.61 H42.2 M484.5,209.61 H488.8 M46.5,195.64 H42.2 M484.5,195.64 H488.8 M46.5,181.67 H38.0 M484.5,181.67 H493.0 M46.5,167.69 H42.2 M484.5,167.69 H488.8 M46.5,153.72 H42.2 M484.5,153.72 H488.8 M46.5,139.75 H38.0 M484.5,139.75 H493.0 M46.5,125.78 H42.2 M484.5,125.78 H488.8 M46.5,111.81 H42.2 M484.5,111.81 H488.8 M46.5,97.83 H38.0 M484.5,97.83 H493.0 M46.5,83.86 H42.2 M484.5,83.86 H488.8 M46.5,69.89 H42.2 M484.5,69.89 H488.8 M46.5,55.92 H38.0 M484.5,55.92 H493.0 M46.5,41.94 H42.2 M484.5,41.94 H488.8 M46.5,27.97 H42.2 M484.5,27.97 H488.8 M46.5,14.00 H38.0 M484.5,14.00 H493.0" stroke="#000" stroke-width="1" fill="none"/>
<g font-family="Liberation Sans" font-size="13.9" fill="#000">
<text x="29.4" y="19.10" text-anchor="end">90N</text>
<text x="29.4" y="61.02" text-anchor="end">60N</text>
<text x="29.4" y="102.93" text-anchor="end">30N</text>
<text x="29.4" y="144.85" text-anchor="end">0</text>
<text x="29.4" y="186.77" text-anchor="end">30S</text>
<text x="29.4" y="228.68" text-anchor="end">60S</text>
<text x="29.4" y="270.60" text-anchor="end">90S</text>
<text x="46.50" y="294.4" text-anchor="middle">180</text>
<text x="119.50" y="294.4" text-anchor="middle">120W</text>
<text x="192.50" y="294.4" text-anchor="middle">60W</text>
<text x="265.50" y="294.4" text-anchor="middle">0</text>
<text x="338.50" y="294.4" text-anchor="middle">60E</text>
<text x="411.50" y="294.4" text-anchor="middle">120E</text>
<text x="484.50" y="294.4" text-anchor="middle">180</text>
</g>
<path d="M89.5,313.4 L71.87,320.05 L89.5,326.7Z" fill="#061f4c" stroke="#222" stroke-width="0.6"/>
<path d="M371.6,313.4 L389.23,320.05 L371.6,326.7Z" fill="#5e0009" stroke="#222" stroke-width="0.6"/>
<rect x="89.50" y="313.4" width="17.63" height="13.30" fill="#08306b" stroke="#222" stroke-width="0.6"/>
<rect x="107.13" y="313.4" width="17.63" height="13.30" fill="#08519c" stroke="#222" stroke-width="0.6"/>
<rect x="124.76" y="313.4" width="17.63" height="13.30" fill="#2473b6" stroke="#222" stroke-width="0.6"/>
<rect x="142.39" y="313.4" width="17.63" height="13.30" fill="#4392c8" stroke="#222" stroke-width="0.6"/>
<rect x="160.03" y="313.4" width="17.63" height="13.30" fill="#5ea4d2" stroke="#222" stroke-width="0.6"/>
<rect x="177.66" y="313.4" width="17.63" height="13.30" fill="#78bdd4" stroke="#222" stroke-width="0.6"/>
<rect x="195.29" y="313.4" width="17.63" height="13.30" fill="#a8dbe1" stroke="#222" stroke-width="0.6"/>
<rect x="212.92" y="313.4" width="17.63" height="13.30" fill="#d9f2fd" stroke="#222" stroke-width="0.6"/>
<rect x="230.55" y="313.4" width="17.63" height="13.30" fill="#fee1df" stroke="#222" stroke-width="0.6"/>
<rect x="248.18" y="313.4" width="17.63" height="13.30" fill="#fcbcaa" stroke="#222" stroke-width="0.6"/>
<rect x="265.81" y="313.4" width="17.63" height="13.30" fill="#fc9676" stroke="#222" stroke-width="0.6"/>
<rect x="283.44" y="313.4" width="17.63" height="13.30" fill="#fb6a4a" stroke="#222" stroke-width="0.6"/>
<rect x="301.08" y="313.4" width="17.63" height="13.30" fill="#ef3b2c" stroke="#222" stroke-width="0.6"/>
<rect x="318.71" y="313.4" width="17.63" height="13.30" fill="#cf1c20" stroke="#222" stroke-width="0.6"/>
<rect x="336.34" y="313.4" width="17.63" height="13.30" fill="#a81016" stroke="#222" stroke-width="0.6"/>
<rect x="353.97" y="313.4" width="17.63" height="13.30" fill="#780c14" stroke="#222" stroke-width="0.6"/>
<g font-family="Liberation Sans" font-size="12.7" fill="#000" text-anchor="middle">
<text x="89.50" y="343.0">-4</text>
<text x="124.76" y="343.0">-3</text>
<text x="160.03" y="343.0">-2</text>
<text x="195.29" y="343.0">-1</text>
<text x="230.55" y="343.0">0</text>
<text x="265.81" y="343.0">1</text>
<text x="301.08" y="343.0">2</text>
<text x="336.34" y="343.0">3</text>
<text x="371.60" y="343.0">4</text>
</g>
<text x="422.6" y="327.4" font-family="Liberation Sans" font-size="7.3" fill="#000">o</text>
<text x="427.0" y="333.9" font-family="Liberation Sans" font-size="13.9" fill="#000">C</text>
</svg>
</body></html>
